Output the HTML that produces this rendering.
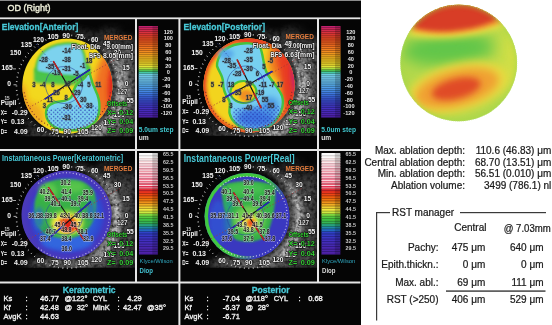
<!DOCTYPE html>
<html><head><meta charset="utf-8"><title>OD (Right)</title>
<style>
html,body{margin:0;padding:0;background:#fff;width:552px;height:325px;overflow:hidden}
svg{display:block}
text{font-family:'Liberation Sans', Arial, sans-serif}
</style></head><body>
<svg width="552" height="325" viewBox="0 0 552 325">
<defs>
<filter id="b05" x="-20%" y="-20%" width="140%" height="140%"><feGaussianBlur stdDeviation="0.5"/></filter>
<filter id="b1" x="-20%" y="-20%" width="140%" height="140%"><feGaussianBlur stdDeviation="1"/></filter>
<filter id="b2" x="-30%" y="-30%" width="160%" height="160%"><feGaussianBlur stdDeviation="2"/></filter>
<filter id="b3" x="-40%" y="-40%" width="180%" height="180%"><feGaussianBlur stdDeviation="3"/></filter>
<filter id="b5" x="-50%" y="-50%" width="200%" height="200%"><feGaussianBlur stdDeviation="5"/></filter>
<filter id="b8" x="-50%" y="-50%" width="200%" height="200%"><feGaussianBlur stdDeviation="8"/></filter>
</defs>
<rect x="0" y="0" width="552" height="325" fill="#ffffff"/>
<rect x="0" y="0" width="361" height="325" fill="#050505"/>
<rect x="0" y="0" width="361" height="1" fill="#8a8a8a"/>

<text x="7.6" y="10.6" font-size="9" fill="#eeeed8" textLength="42.8" lengthAdjust="spacingAndGlyphs" stroke="#eeeed8" stroke-width="0.4">OD (Right)</text>
<rect x="0" y="17.4" width="360.5" height="1.8" fill="#e6e6e6"/>
<rect x="0" y="149" width="360.5" height="2" fill="#e6e6e6"/>
<rect x="0" y="281.5" width="360.5" height="2" fill="#e6e6e6"/>
<rect x="135" y="18" width="2" height="264" fill="#e6e6e6"/>
<rect x="178.4" y="18" width="2" height="307" fill="#e6e6e6"/>
<rect x="317" y="18" width="2" height="264" fill="#e6e6e6"/>
<rect x="138.7" y="26.00" width="19.30000000000001" height="1.96" fill="rgb(196, 34, 112)"/>
<rect x="138.7" y="27.31" width="19.30000000000001" height="0.6" fill="rgb(107, 18, 61)"/>
<rect x="138.7" y="27.91" width="19.30000000000001" height="1.96" fill="rgb(203, 38, 92)"/>
<rect x="138.7" y="29.21" width="19.30000000000001" height="0.6" fill="rgb(111, 20, 50)"/>
<rect x="138.7" y="29.81" width="19.30000000000001" height="1.96" fill="rgb(210, 43, 75)"/>
<rect x="138.7" y="31.12" width="19.30000000000001" height="0.6" fill="rgb(115, 23, 41)"/>
<rect x="138.7" y="31.72" width="19.30000000000001" height="1.96" fill="rgb(217, 50, 63)"/>
<rect x="138.7" y="33.02" width="19.30000000000001" height="0.6" fill="rgb(119, 27, 34)"/>
<rect x="138.7" y="33.62" width="19.30000000000001" height="1.96" fill="rgb(223, 56, 51)"/>
<rect x="138.7" y="34.93" width="19.30000000000001" height="0.6" fill="rgb(122, 30, 28)"/>
<rect x="138.7" y="35.53" width="19.30000000000001" height="1.96" fill="rgb(226, 65, 43)"/>
<rect x="138.7" y="36.84" width="19.30000000000001" height="0.6" fill="rgb(124, 35, 23)"/>
<rect x="138.7" y="37.44" width="19.30000000000001" height="1.96" fill="rgb(229, 73, 37)"/>
<rect x="138.7" y="38.74" width="19.30000000000001" height="0.6" fill="rgb(125, 40, 20)"/>
<rect x="138.7" y="39.34" width="19.30000000000001" height="1.96" fill="rgb(232, 81, 32)"/>
<rect x="138.7" y="40.65" width="19.30000000000001" height="0.6" fill="rgb(127, 44, 17)"/>
<rect x="138.7" y="41.25" width="19.30000000000001" height="1.96" fill="rgb(236, 91, 32)"/>
<rect x="138.7" y="42.56" width="19.30000000000001" height="0.6" fill="rgb(129, 50, 17)"/>
<rect x="138.7" y="43.16" width="19.30000000000001" height="1.96" fill="rgb(239, 100, 32)"/>
<rect x="138.7" y="44.46" width="19.30000000000001" height="0.6" fill="rgb(131, 55, 17)"/>
<rect x="138.7" y="45.06" width="19.30000000000001" height="1.96" fill="rgb(240, 109, 32)"/>
<rect x="138.7" y="46.37" width="19.30000000000001" height="0.6" fill="rgb(132, 59, 17)"/>
<rect x="138.7" y="46.97" width="19.30000000000001" height="1.96" fill="rgb(240, 118, 32)"/>
<rect x="138.7" y="48.27" width="19.30000000000001" height="0.6" fill="rgb(132, 64, 17)"/>
<rect x="138.7" y="48.88" width="19.30000000000001" height="1.96" fill="rgb(240, 127, 32)"/>
<rect x="138.7" y="50.18" width="19.30000000000001" height="0.6" fill="rgb(132, 69, 17)"/>
<rect x="138.7" y="50.78" width="19.30000000000001" height="1.96" fill="rgb(240, 139, 32)"/>
<rect x="138.7" y="52.09" width="19.30000000000001" height="0.6" fill="rgb(132, 76, 17)"/>
<rect x="138.7" y="52.69" width="19.30000000000001" height="1.96" fill="rgb(240, 151, 32)"/>
<rect x="138.7" y="53.99" width="19.30000000000001" height="0.6" fill="rgb(132, 83, 17)"/>
<rect x="138.7" y="54.59" width="19.30000000000001" height="1.96" fill="rgb(240, 164, 32)"/>
<rect x="138.7" y="55.90" width="19.30000000000001" height="0.6" fill="rgb(132, 90, 17)"/>
<rect x="138.7" y="56.50" width="19.30000000000001" height="1.96" fill="rgb(240, 176, 32)"/>
<rect x="138.7" y="57.81" width="19.30000000000001" height="0.6" fill="rgb(132, 96, 17)"/>
<rect x="138.7" y="58.41" width="19.30000000000001" height="1.96" fill="rgb(240, 188, 32)"/>
<rect x="138.7" y="59.71" width="19.30000000000001" height="0.6" fill="rgb(132, 103, 17)"/>
<rect x="138.7" y="60.31" width="19.30000000000001" height="1.96" fill="rgb(240, 200, 36)"/>
<rect x="138.7" y="61.62" width="19.30000000000001" height="0.6" fill="rgb(132, 110, 19)"/>
<rect x="138.7" y="62.22" width="19.30000000000001" height="1.96" fill="rgb(240, 212, 42)"/>
<rect x="138.7" y="63.52" width="19.30000000000001" height="0.6" fill="rgb(132, 116, 23)"/>
<rect x="138.7" y="64.12" width="19.30000000000001" height="1.96" fill="rgb(240, 224, 48)"/>
<rect x="138.7" y="65.43" width="19.30000000000001" height="0.6" fill="rgb(132, 123, 26)"/>
<rect x="138.7" y="66.03" width="19.30000000000001" height="1.96" fill="rgb(229, 235, 59)"/>
<rect x="138.7" y="67.34" width="19.30000000000001" height="0.6" fill="rgb(125, 129, 32)"/>
<rect x="138.7" y="67.94" width="19.30000000000001" height="1.96" fill="rgb(173, 223, 64)"/>
<rect x="138.7" y="69.24" width="19.30000000000001" height="0.6" fill="rgb(95, 122, 35)"/>
<rect x="138.7" y="69.84" width="19.30000000000001" height="1.96" fill="rgb(78, 193, 78)"/>
<rect x="138.7" y="71.15" width="19.30000000000001" height="0.6" fill="rgb(42, 106, 42)"/>
<rect x="138.7" y="71.75" width="19.30000000000001" height="1.96" fill="rgb(69, 201, 166)"/>
<rect x="138.7" y="73.06" width="19.30000000000001" height="0.6" fill="rgb(37, 110, 91)"/>
<rect x="138.7" y="73.66" width="19.30000000000001" height="1.96" fill="rgb(111, 210, 228)"/>
<rect x="138.7" y="74.96" width="19.30000000000001" height="0.6" fill="rgb(61, 115, 125)"/>
<rect x="138.7" y="75.56" width="19.30000000000001" height="1.96" fill="rgb(118, 208, 240)"/>
<rect x="138.7" y="76.87" width="19.30000000000001" height="0.6" fill="rgb(64, 114, 132)"/>
<rect x="138.7" y="77.47" width="19.30000000000001" height="1.96" fill="rgb(115, 204, 240)"/>
<rect x="138.7" y="78.78" width="19.30000000000001" height="0.6" fill="rgb(63, 112, 132)"/>
<rect x="138.7" y="79.38" width="19.30000000000001" height="1.96" fill="rgb(111, 198, 240)"/>
<rect x="138.7" y="80.68" width="19.30000000000001" height="0.6" fill="rgb(61, 108, 132)"/>
<rect x="138.7" y="81.28" width="19.30000000000001" height="1.96" fill="rgb(102, 189, 238)"/>
<rect x="138.7" y="82.59" width="19.30000000000001" height="0.6" fill="rgb(56, 103, 130)"/>
<rect x="138.7" y="83.19" width="19.30000000000001" height="1.96" fill="rgb(94, 180, 237)"/>
<rect x="138.7" y="84.49" width="19.30000000000001" height="0.6" fill="rgb(51, 99, 130)"/>
<rect x="138.7" y="85.09" width="19.30000000000001" height="1.96" fill="rgb(86, 169, 234)"/>
<rect x="138.7" y="86.40" width="19.30000000000001" height="0.6" fill="rgb(47, 92, 128)"/>
<rect x="138.7" y="87.00" width="19.30000000000001" height="1.96" fill="rgb(79, 157, 231)"/>
<rect x="138.7" y="88.31" width="19.30000000000001" height="0.6" fill="rgb(43, 86, 127)"/>
<rect x="138.7" y="88.91" width="19.30000000000001" height="1.96" fill="rgb(73, 145, 228)"/>
<rect x="138.7" y="90.21" width="19.30000000000001" height="0.6" fill="rgb(40, 79, 125)"/>
<rect x="138.7" y="90.81" width="19.30000000000001" height="1.96" fill="rgb(68, 133, 225)"/>
<rect x="138.7" y="92.12" width="19.30000000000001" height="0.6" fill="rgb(37, 73, 123)"/>
<rect x="138.7" y="92.72" width="19.30000000000001" height="1.96" fill="rgb(63, 120, 222)"/>
<rect x="138.7" y="94.03" width="19.30000000000001" height="0.6" fill="rgb(34, 66, 122)"/>
<rect x="138.7" y="94.62" width="19.30000000000001" height="1.96" fill="rgb(60, 108, 219)"/>
<rect x="138.7" y="95.93" width="19.30000000000001" height="0.6" fill="rgb(33, 59, 120)"/>
<rect x="138.7" y="96.53" width="19.30000000000001" height="1.96" fill="rgb(58, 96, 214)"/>
<rect x="138.7" y="97.84" width="19.30000000000001" height="0.6" fill="rgb(31, 52, 117)"/>
<rect x="138.7" y="98.44" width="19.30000000000001" height="1.96" fill="rgb(56, 84, 209)"/>
<rect x="138.7" y="99.74" width="19.30000000000001" height="0.6" fill="rgb(30, 46, 114)"/>
<rect x="138.7" y="100.34" width="19.30000000000001" height="1.96" fill="rgb(58, 75, 205)"/>
<rect x="138.7" y="101.65" width="19.30000000000001" height="0.6" fill="rgb(31, 41, 112)"/>
<rect x="138.7" y="102.25" width="19.30000000000001" height="1.96" fill="rgb(60, 67, 202)"/>
<rect x="138.7" y="103.56" width="19.30000000000001" height="0.6" fill="rgb(33, 36, 111)"/>
<rect x="138.7" y="104.16" width="19.30000000000001" height="1.96" fill="rgb(63, 60, 198)"/>
<rect x="138.7" y="105.46" width="19.30000000000001" height="0.6" fill="rgb(34, 33, 108)"/>
<rect x="138.7" y="106.06" width="19.30000000000001" height="1.96" fill="rgb(65, 53, 194)"/>
<rect x="138.7" y="107.37" width="19.30000000000001" height="0.6" fill="rgb(35, 29, 106)"/>
<rect x="138.7" y="107.97" width="19.30000000000001" height="1.96" fill="rgb(68, 48, 190)"/>
<rect x="138.7" y="109.28" width="19.30000000000001" height="0.6" fill="rgb(37, 26, 104)"/>
<rect x="138.7" y="109.88" width="19.30000000000001" height="1.96" fill="rgb(70, 43, 186)"/>
<rect x="138.7" y="111.18" width="19.30000000000001" height="0.6" fill="rgb(38, 23, 102)"/>
<rect x="138.7" y="111.78" width="19.30000000000001" height="1.96" fill="rgb(73, 39, 182)"/>
<rect x="138.7" y="113.09" width="19.30000000000001" height="0.6" fill="rgb(40, 21, 100)"/>
<rect x="138.7" y="113.69" width="19.30000000000001" height="1.96" fill="rgb(76, 36, 176)"/>
<rect x="138.7" y="114.99" width="19.30000000000001" height="0.6" fill="rgb(41, 19, 96)"/>
<rect x="138.7" y="115.59" width="19.30000000000001" height="1.96" fill="rgb(79, 33, 171)"/>
<rect x="138.7" y="116.90" width="19.30000000000001" height="0.6" fill="rgb(43, 18, 94)"/>
<rect x="152.5" y="26" width="5.5" height="91.5" fill="#000" opacity="0.18"/>
<rect x="139" y="153.00" width="18.80000000000001" height="2.59" fill="rgb(249, 249, 249)"/>
<rect x="139" y="154.64" width="18.80000000000001" height="0.9" fill="#ffffff" opacity="0.85"/>
<rect x="139" y="155.54" width="18.80000000000001" height="2.59" fill="rgb(240, 235, 235)"/>
<rect x="139" y="157.17" width="18.80000000000001" height="0.9" fill="#ffffff" opacity="0.85"/>
<rect x="139" y="158.07" width="18.80000000000001" height="2.59" fill="rgb(240, 220, 220)"/>
<rect x="139" y="159.71" width="18.80000000000001" height="0.9" fill="#ffffff" opacity="0.85"/>
<rect x="139" y="160.61" width="18.80000000000001" height="2.59" fill="rgb(240, 205, 208)"/>
<rect x="139" y="162.25" width="18.80000000000001" height="0.9" fill="#ffffff" opacity="0.85"/>
<rect x="139" y="163.15" width="18.80000000000001" height="2.59" fill="rgb(240, 189, 198)"/>
<rect x="139" y="164.79" width="18.80000000000001" height="0.9" fill="#ffffff" opacity="0.85"/>
<rect x="139" y="165.69" width="18.80000000000001" height="2.59" fill="rgb(240, 174, 188)"/>
<rect x="139" y="167.32" width="18.80000000000001" height="0.9" fill="#ffffff" opacity="0.85"/>
<rect x="139" y="168.22" width="18.80000000000001" height="2.59" fill="rgb(240, 163, 178)"/>
<rect x="139" y="169.86" width="18.80000000000001" height="0.9" fill="#ffffff" opacity="0.85"/>
<rect x="139" y="170.76" width="18.80000000000001" height="2.59" fill="rgb(240, 154, 168)"/>
<rect x="139" y="172.40" width="18.80000000000001" height="0.9" fill="#ffffff" opacity="0.85"/>
<rect x="139" y="173.30" width="18.80000000000001" height="2.59" fill="rgb(240, 142, 163)"/>
<rect x="139" y="174.94" width="18.80000000000001" height="0.9" fill="#ffffff" opacity="0.85"/>
<rect x="139" y="175.84" width="18.80000000000001" height="2.59" fill="rgb(240, 132, 156)"/>
<rect x="139" y="177.47" width="18.80000000000001" height="0.9" fill="#ffffff" opacity="0.85"/>
<rect x="139" y="178.38" width="18.80000000000001" height="2.59" fill="rgb(240, 121, 145)"/>
<rect x="139" y="180.01" width="18.80000000000001" height="0.9" fill="#ffffff" opacity="0.85"/>
<rect x="139" y="180.91" width="18.80000000000001" height="2.59" fill="rgb(236, 107, 131)"/>
<rect x="139" y="182.55" width="18.80000000000001" height="0.9" fill="#ffffff" opacity="0.85"/>
<rect x="139" y="183.45" width="18.80000000000001" height="2.59" fill="rgb(231, 86, 111)"/>
<rect x="139" y="185.09" width="18.80000000000001" height="0.9" fill="#ffffff" opacity="0.85"/>
<rect x="139" y="185.99" width="18.80000000000001" height="2.59" fill="rgb(225, 50, 81)"/>
<rect x="139" y="187.62" width="18.80000000000001" height="0.9" fill="#ffffff" opacity="0.85"/>
<rect x="139" y="188.53" width="18.80000000000001" height="2.59" fill="rgb(228, 44, 54)"/>
<rect x="139" y="190.46" width="18.80000000000001" height="0.6" fill="rgb(125, 24, 29)"/>
<rect x="139" y="191.06" width="18.80000000000001" height="2.59" fill="rgb(233, 51, 31)"/>
<rect x="139" y="193.00" width="18.80000000000001" height="0.6" fill="rgb(128, 28, 17)"/>
<rect x="139" y="193.60" width="18.80000000000001" height="2.59" fill="rgb(238, 71, 21)"/>
<rect x="139" y="195.54" width="18.80000000000001" height="0.6" fill="rgb(130, 39, 11)"/>
<rect x="139" y="196.14" width="18.80000000000001" height="2.59" fill="rgb(240, 94, 16)"/>
<rect x="139" y="198.07" width="18.80000000000001" height="0.6" fill="rgb(132, 51, 8)"/>
<rect x="139" y="198.68" width="18.80000000000001" height="2.59" fill="rgb(240, 119, 16)"/>
<rect x="139" y="200.61" width="18.80000000000001" height="0.6" fill="rgb(132, 65, 8)"/>
<rect x="139" y="201.21" width="18.80000000000001" height="2.59" fill="rgb(240, 145, 26)"/>
<rect x="139" y="203.15" width="18.80000000000001" height="0.6" fill="rgb(132, 79, 14)"/>
<rect x="139" y="203.75" width="18.80000000000001" height="2.59" fill="rgb(240, 174, 37)"/>
<rect x="139" y="205.69" width="18.80000000000001" height="0.6" fill="rgb(132, 95, 20)"/>
<rect x="139" y="206.29" width="18.80000000000001" height="2.59" fill="rgb(240, 206, 51)"/>
<rect x="139" y="208.22" width="18.80000000000001" height="0.6" fill="rgb(132, 113, 28)"/>
<rect x="139" y="208.82" width="18.80000000000001" height="2.59" fill="rgb(239, 232, 64)"/>
<rect x="139" y="210.76" width="18.80000000000001" height="0.6" fill="rgb(131, 127, 35)"/>
<rect x="139" y="211.36" width="18.80000000000001" height="2.59" fill="rgb(205, 232, 64)"/>
<rect x="139" y="213.30" width="18.80000000000001" height="0.6" fill="rgb(112, 127, 35)"/>
<rect x="139" y="213.90" width="18.80000000000001" height="2.59" fill="rgb(125, 215, 64)"/>
<rect x="139" y="215.84" width="18.80000000000001" height="0.6" fill="rgb(68, 118, 35)"/>
<rect x="139" y="216.44" width="18.80000000000001" height="2.59" fill="rgb(82, 201, 64)"/>
<rect x="139" y="218.38" width="18.80000000000001" height="0.6" fill="rgb(45, 110, 35)"/>
<rect x="139" y="218.98" width="18.80000000000001" height="2.59" fill="rgb(63, 191, 66)"/>
<rect x="139" y="220.91" width="18.80000000000001" height="0.6" fill="rgb(34, 105, 36)"/>
<rect x="139" y="221.51" width="18.80000000000001" height="2.59" fill="rgb(53, 181, 86)"/>
<rect x="139" y="223.45" width="18.80000000000001" height="0.6" fill="rgb(29, 99, 47)"/>
<rect x="139" y="224.05" width="18.80000000000001" height="2.59" fill="rgb(41, 162, 124)"/>
<rect x="139" y="225.99" width="18.80000000000001" height="0.6" fill="rgb(22, 89, 68)"/>
<rect x="139" y="226.59" width="18.80000000000001" height="2.59" fill="rgb(32, 135, 169)"/>
<rect x="139" y="228.53" width="18.80000000000001" height="0.6" fill="rgb(17, 74, 92)"/>
<rect x="139" y="229.12" width="18.80000000000001" height="2.59" fill="rgb(34, 106, 193)"/>
<rect x="139" y="231.06" width="18.80000000000001" height="0.6" fill="rgb(18, 58, 106)"/>
<rect x="139" y="231.66" width="18.80000000000001" height="2.59" fill="rgb(48, 65, 200)"/>
<rect x="139" y="233.60" width="18.80000000000001" height="0.6" fill="rgb(26, 35, 110)"/>
<rect x="139" y="234.20" width="18.80000000000001" height="2.59" fill="rgb(54, 58, 197)"/>
<rect x="139" y="236.14" width="18.80000000000001" height="0.6" fill="rgb(29, 31, 108)"/>
<rect x="139" y="236.74" width="18.80000000000001" height="2.59" fill="rgb(59, 53, 194)"/>
<rect x="139" y="238.68" width="18.80000000000001" height="0.6" fill="rgb(32, 29, 106)"/>
<rect x="139" y="239.28" width="18.80000000000001" height="2.59" fill="rgb(65, 47, 191)"/>
<rect x="139" y="241.21" width="18.80000000000001" height="0.6" fill="rgb(35, 25, 105)"/>
<rect x="139" y="241.81" width="18.80000000000001" height="2.59" fill="rgb(68, 44, 185)"/>
<rect x="139" y="243.75" width="18.80000000000001" height="0.6" fill="rgb(37, 24, 101)"/>
<rect x="139" y="244.35" width="18.80000000000001" height="2.59" fill="rgb(70, 42, 179)"/>
<rect x="139" y="246.29" width="18.80000000000001" height="0.6" fill="rgb(38, 23, 98)"/>
<rect x="139" y="246.89" width="18.80000000000001" height="2.59" fill="rgb(73, 39, 175)"/>
<rect x="139" y="248.82" width="18.80000000000001" height="0.6" fill="rgb(40, 21, 96)"/>
<rect x="139" y="249.43" width="18.80000000000001" height="2.59" fill="rgb(76, 36, 172)"/>
<rect x="139" y="251.36" width="18.80000000000001" height="0.6" fill="rgb(41, 19, 94)"/>
<rect x="139" y="251.96" width="18.80000000000001" height="2.59" fill="rgb(79, 33, 169)"/>
<rect x="139" y="253.90" width="18.80000000000001" height="0.6" fill="rgb(43, 18, 92)"/>
<rect x="152.3" y="153" width="5.5" height="101.5" fill="#000" opacity="0.18"/>
<text x="168.3" y="33.7" font-size="5.6" fill="#e6e6e6" font-weight="bold" text-anchor="middle">120</text>
<text x="168.3" y="40.480000000000004" font-size="5.6" fill="#e6e6e6" font-weight="bold" text-anchor="middle">100</text>
<text x="168.3" y="47.260000000000005" font-size="5.6" fill="#e6e6e6" font-weight="bold" text-anchor="middle">80</text>
<text x="168.3" y="54.040000000000006" font-size="5.6" fill="#e6e6e6" font-weight="bold" text-anchor="middle">60</text>
<text x="168.3" y="60.82000000000001" font-size="5.6" fill="#e6e6e6" font-weight="bold" text-anchor="middle">40</text>
<text x="168.3" y="67.6" font-size="5.6" fill="#e6e6e6" font-weight="bold" text-anchor="middle">20</text>
<text x="168.3" y="74.38" font-size="5.6" fill="#e6e6e6" font-weight="bold" text-anchor="middle">0</text>
<text x="166.4" y="81.16" font-size="5.6" fill="#e6e6e6" font-weight="bold" text-anchor="middle">-20</text>
<text x="166.4" y="87.94" font-size="5.6" fill="#e6e6e6" font-weight="bold" text-anchor="middle">-40</text>
<text x="166.4" y="94.72" font-size="5.6" fill="#e6e6e6" font-weight="bold" text-anchor="middle">-60</text>
<text x="166.4" y="101.5" font-size="5.6" fill="#e6e6e6" font-weight="bold" text-anchor="middle">-80</text>
<text x="166.4" y="108.28" font-size="5.6" fill="#e6e6e6" font-weight="bold" text-anchor="middle">-100</text>
<text x="166.4" y="115.06" font-size="5.6" fill="#e6e6e6" font-weight="bold" text-anchor="middle">-120</text>
<text x="168.2" y="156.2" font-size="5.3" fill="#c8c8c8" font-weight="bold" text-anchor="middle">65.5</text>
<text x="168.2" y="164.04999999999998" font-size="5.3" fill="#c8c8c8" font-weight="bold" text-anchor="middle">62.5</text>
<text x="168.2" y="171.89999999999998" font-size="5.3" fill="#c8c8c8" font-weight="bold" text-anchor="middle">59.5</text>
<text x="168.2" y="179.75" font-size="5.3" fill="#c8c8c8" font-weight="bold" text-anchor="middle">56.5</text>
<text x="168.2" y="187.6" font-size="5.3" fill="#c8c8c8" font-weight="bold" text-anchor="middle">53.5</text>
<text x="168.2" y="195.45" font-size="5.3" fill="#c8c8c8" font-weight="bold" text-anchor="middle">50.5</text>
<text x="168.2" y="203.29999999999998" font-size="5.3" fill="#c8c8c8" font-weight="bold" text-anchor="middle">47.5</text>
<text x="168.2" y="211.14999999999998" font-size="5.3" fill="#c8c8c8" font-weight="bold" text-anchor="middle">44.5</text>
<text x="168.2" y="219.0" font-size="5.3" fill="#c8c8c8" font-weight="bold" text-anchor="middle">41.5</text>
<text x="168.2" y="226.84999999999997" font-size="5.3" fill="#c8c8c8" font-weight="bold" text-anchor="middle">38.5</text>
<text x="168.2" y="234.7" font-size="5.3" fill="#c8c8c8" font-weight="bold" text-anchor="middle">35.5</text>
<text x="168.2" y="242.54999999999998" font-size="5.3" fill="#c8c8c8" font-weight="bold" text-anchor="middle">32.5</text>
<text x="168.2" y="250.39999999999998" font-size="5.3" fill="#c8c8c8" font-weight="bold" text-anchor="middle">29.5</text>
<text x="138.7" y="131.9" font-size="7" fill="#40c8d0" font-weight="bold" textLength="34.8" lengthAdjust="spacingAndGlyphs">5.0um step</text>
<text x="138.7" y="140" font-size="7" fill="#e0e0e0" font-weight="bold" textLength="10" lengthAdjust="spacingAndGlyphs">um</text>
<text x="139.5" y="262.9" font-size="5" fill="#30a8c0" textLength="33.3" lengthAdjust="spacingAndGlyphs">Klyce/Wilson</text>
<text x="139.5" y="273" font-size="7.8" fill="#44c4d4" font-weight="bold" textLength="13.5" lengthAdjust="spacingAndGlyphs">Diop</text>
<rect x="321.2" y="26.00" width="19.30000000000001" height="1.96" fill="rgb(196, 34, 112)"/>
<rect x="321.2" y="27.31" width="19.30000000000001" height="0.6" fill="rgb(107, 18, 61)"/>
<rect x="321.2" y="27.91" width="19.30000000000001" height="1.96" fill="rgb(203, 38, 92)"/>
<rect x="321.2" y="29.21" width="19.30000000000001" height="0.6" fill="rgb(111, 20, 50)"/>
<rect x="321.2" y="29.81" width="19.30000000000001" height="1.96" fill="rgb(210, 43, 75)"/>
<rect x="321.2" y="31.12" width="19.30000000000001" height="0.6" fill="rgb(115, 23, 41)"/>
<rect x="321.2" y="31.72" width="19.30000000000001" height="1.96" fill="rgb(217, 50, 63)"/>
<rect x="321.2" y="33.02" width="19.30000000000001" height="0.6" fill="rgb(119, 27, 34)"/>
<rect x="321.2" y="33.62" width="19.30000000000001" height="1.96" fill="rgb(223, 56, 51)"/>
<rect x="321.2" y="34.93" width="19.30000000000001" height="0.6" fill="rgb(122, 30, 28)"/>
<rect x="321.2" y="35.53" width="19.30000000000001" height="1.96" fill="rgb(226, 65, 43)"/>
<rect x="321.2" y="36.84" width="19.30000000000001" height="0.6" fill="rgb(124, 35, 23)"/>
<rect x="321.2" y="37.44" width="19.30000000000001" height="1.96" fill="rgb(229, 73, 37)"/>
<rect x="321.2" y="38.74" width="19.30000000000001" height="0.6" fill="rgb(125, 40, 20)"/>
<rect x="321.2" y="39.34" width="19.30000000000001" height="1.96" fill="rgb(232, 81, 32)"/>
<rect x="321.2" y="40.65" width="19.30000000000001" height="0.6" fill="rgb(127, 44, 17)"/>
<rect x="321.2" y="41.25" width="19.30000000000001" height="1.96" fill="rgb(236, 91, 32)"/>
<rect x="321.2" y="42.56" width="19.30000000000001" height="0.6" fill="rgb(129, 50, 17)"/>
<rect x="321.2" y="43.16" width="19.30000000000001" height="1.96" fill="rgb(239, 100, 32)"/>
<rect x="321.2" y="44.46" width="19.30000000000001" height="0.6" fill="rgb(131, 55, 17)"/>
<rect x="321.2" y="45.06" width="19.30000000000001" height="1.96" fill="rgb(240, 109, 32)"/>
<rect x="321.2" y="46.37" width="19.30000000000001" height="0.6" fill="rgb(132, 59, 17)"/>
<rect x="321.2" y="46.97" width="19.30000000000001" height="1.96" fill="rgb(240, 118, 32)"/>
<rect x="321.2" y="48.27" width="19.30000000000001" height="0.6" fill="rgb(132, 64, 17)"/>
<rect x="321.2" y="48.88" width="19.30000000000001" height="1.96" fill="rgb(240, 127, 32)"/>
<rect x="321.2" y="50.18" width="19.30000000000001" height="0.6" fill="rgb(132, 69, 17)"/>
<rect x="321.2" y="50.78" width="19.30000000000001" height="1.96" fill="rgb(240, 139, 32)"/>
<rect x="321.2" y="52.09" width="19.30000000000001" height="0.6" fill="rgb(132, 76, 17)"/>
<rect x="321.2" y="52.69" width="19.30000000000001" height="1.96" fill="rgb(240, 151, 32)"/>
<rect x="321.2" y="53.99" width="19.30000000000001" height="0.6" fill="rgb(132, 83, 17)"/>
<rect x="321.2" y="54.59" width="19.30000000000001" height="1.96" fill="rgb(240, 164, 32)"/>
<rect x="321.2" y="55.90" width="19.30000000000001" height="0.6" fill="rgb(132, 90, 17)"/>
<rect x="321.2" y="56.50" width="19.30000000000001" height="1.96" fill="rgb(240, 176, 32)"/>
<rect x="321.2" y="57.81" width="19.30000000000001" height="0.6" fill="rgb(132, 96, 17)"/>
<rect x="321.2" y="58.41" width="19.30000000000001" height="1.96" fill="rgb(240, 188, 32)"/>
<rect x="321.2" y="59.71" width="19.30000000000001" height="0.6" fill="rgb(132, 103, 17)"/>
<rect x="321.2" y="60.31" width="19.30000000000001" height="1.96" fill="rgb(240, 200, 36)"/>
<rect x="321.2" y="61.62" width="19.30000000000001" height="0.6" fill="rgb(132, 110, 19)"/>
<rect x="321.2" y="62.22" width="19.30000000000001" height="1.96" fill="rgb(240, 212, 42)"/>
<rect x="321.2" y="63.52" width="19.30000000000001" height="0.6" fill="rgb(132, 116, 23)"/>
<rect x="321.2" y="64.12" width="19.30000000000001" height="1.96" fill="rgb(240, 224, 48)"/>
<rect x="321.2" y="65.43" width="19.30000000000001" height="0.6" fill="rgb(132, 123, 26)"/>
<rect x="321.2" y="66.03" width="19.30000000000001" height="1.96" fill="rgb(229, 235, 59)"/>
<rect x="321.2" y="67.34" width="19.30000000000001" height="0.6" fill="rgb(125, 129, 32)"/>
<rect x="321.2" y="67.94" width="19.30000000000001" height="1.96" fill="rgb(173, 223, 64)"/>
<rect x="321.2" y="69.24" width="19.30000000000001" height="0.6" fill="rgb(95, 122, 35)"/>
<rect x="321.2" y="69.84" width="19.30000000000001" height="1.96" fill="rgb(78, 193, 78)"/>
<rect x="321.2" y="71.15" width="19.30000000000001" height="0.6" fill="rgb(42, 106, 42)"/>
<rect x="321.2" y="71.75" width="19.30000000000001" height="1.96" fill="rgb(69, 201, 166)"/>
<rect x="321.2" y="73.06" width="19.30000000000001" height="0.6" fill="rgb(37, 110, 91)"/>
<rect x="321.2" y="73.66" width="19.30000000000001" height="1.96" fill="rgb(111, 210, 228)"/>
<rect x="321.2" y="74.96" width="19.30000000000001" height="0.6" fill="rgb(61, 115, 125)"/>
<rect x="321.2" y="75.56" width="19.30000000000001" height="1.96" fill="rgb(118, 208, 240)"/>
<rect x="321.2" y="76.87" width="19.30000000000001" height="0.6" fill="rgb(64, 114, 132)"/>
<rect x="321.2" y="77.47" width="19.30000000000001" height="1.96" fill="rgb(115, 204, 240)"/>
<rect x="321.2" y="78.78" width="19.30000000000001" height="0.6" fill="rgb(63, 112, 132)"/>
<rect x="321.2" y="79.38" width="19.30000000000001" height="1.96" fill="rgb(111, 198, 240)"/>
<rect x="321.2" y="80.68" width="19.30000000000001" height="0.6" fill="rgb(61, 108, 132)"/>
<rect x="321.2" y="81.28" width="19.30000000000001" height="1.96" fill="rgb(102, 189, 238)"/>
<rect x="321.2" y="82.59" width="19.30000000000001" height="0.6" fill="rgb(56, 103, 130)"/>
<rect x="321.2" y="83.19" width="19.30000000000001" height="1.96" fill="rgb(94, 180, 237)"/>
<rect x="321.2" y="84.49" width="19.30000000000001" height="0.6" fill="rgb(51, 99, 130)"/>
<rect x="321.2" y="85.09" width="19.30000000000001" height="1.96" fill="rgb(86, 169, 234)"/>
<rect x="321.2" y="86.40" width="19.30000000000001" height="0.6" fill="rgb(47, 92, 128)"/>
<rect x="321.2" y="87.00" width="19.30000000000001" height="1.96" fill="rgb(79, 157, 231)"/>
<rect x="321.2" y="88.31" width="19.30000000000001" height="0.6" fill="rgb(43, 86, 127)"/>
<rect x="321.2" y="88.91" width="19.30000000000001" height="1.96" fill="rgb(73, 145, 228)"/>
<rect x="321.2" y="90.21" width="19.30000000000001" height="0.6" fill="rgb(40, 79, 125)"/>
<rect x="321.2" y="90.81" width="19.30000000000001" height="1.96" fill="rgb(68, 133, 225)"/>
<rect x="321.2" y="92.12" width="19.30000000000001" height="0.6" fill="rgb(37, 73, 123)"/>
<rect x="321.2" y="92.72" width="19.30000000000001" height="1.96" fill="rgb(63, 120, 222)"/>
<rect x="321.2" y="94.03" width="19.30000000000001" height="0.6" fill="rgb(34, 66, 122)"/>
<rect x="321.2" y="94.62" width="19.30000000000001" height="1.96" fill="rgb(60, 108, 219)"/>
<rect x="321.2" y="95.93" width="19.30000000000001" height="0.6" fill="rgb(33, 59, 120)"/>
<rect x="321.2" y="96.53" width="19.30000000000001" height="1.96" fill="rgb(58, 96, 214)"/>
<rect x="321.2" y="97.84" width="19.30000000000001" height="0.6" fill="rgb(31, 52, 117)"/>
<rect x="321.2" y="98.44" width="19.30000000000001" height="1.96" fill="rgb(56, 84, 209)"/>
<rect x="321.2" y="99.74" width="19.30000000000001" height="0.6" fill="rgb(30, 46, 114)"/>
<rect x="321.2" y="100.34" width="19.30000000000001" height="1.96" fill="rgb(58, 75, 205)"/>
<rect x="321.2" y="101.65" width="19.30000000000001" height="0.6" fill="rgb(31, 41, 112)"/>
<rect x="321.2" y="102.25" width="19.30000000000001" height="1.96" fill="rgb(60, 67, 202)"/>
<rect x="321.2" y="103.56" width="19.30000000000001" height="0.6" fill="rgb(33, 36, 111)"/>
<rect x="321.2" y="104.16" width="19.30000000000001" height="1.96" fill="rgb(63, 60, 198)"/>
<rect x="321.2" y="105.46" width="19.30000000000001" height="0.6" fill="rgb(34, 33, 108)"/>
<rect x="321.2" y="106.06" width="19.30000000000001" height="1.96" fill="rgb(65, 53, 194)"/>
<rect x="321.2" y="107.37" width="19.30000000000001" height="0.6" fill="rgb(35, 29, 106)"/>
<rect x="321.2" y="107.97" width="19.30000000000001" height="1.96" fill="rgb(68, 48, 190)"/>
<rect x="321.2" y="109.28" width="19.30000000000001" height="0.6" fill="rgb(37, 26, 104)"/>
<rect x="321.2" y="109.88" width="19.30000000000001" height="1.96" fill="rgb(70, 43, 186)"/>
<rect x="321.2" y="111.18" width="19.30000000000001" height="0.6" fill="rgb(38, 23, 102)"/>
<rect x="321.2" y="111.78" width="19.30000000000001" height="1.96" fill="rgb(73, 39, 182)"/>
<rect x="321.2" y="113.09" width="19.30000000000001" height="0.6" fill="rgb(40, 21, 100)"/>
<rect x="321.2" y="113.69" width="19.30000000000001" height="1.96" fill="rgb(76, 36, 176)"/>
<rect x="321.2" y="114.99" width="19.30000000000001" height="0.6" fill="rgb(41, 19, 96)"/>
<rect x="321.2" y="115.59" width="19.30000000000001" height="1.96" fill="rgb(79, 33, 171)"/>
<rect x="321.2" y="116.90" width="19.30000000000001" height="0.6" fill="rgb(43, 18, 94)"/>
<rect x="335.0" y="26" width="5.5" height="91.5" fill="#000" opacity="0.18"/>
<rect x="321.5" y="153.00" width="18.80000000000001" height="2.59" fill="rgb(249, 249, 249)"/>
<rect x="321.5" y="154.64" width="18.80000000000001" height="0.9" fill="#ffffff" opacity="0.85"/>
<rect x="321.5" y="155.54" width="18.80000000000001" height="2.59" fill="rgb(240, 235, 235)"/>
<rect x="321.5" y="157.17" width="18.80000000000001" height="0.9" fill="#ffffff" opacity="0.85"/>
<rect x="321.5" y="158.07" width="18.80000000000001" height="2.59" fill="rgb(240, 220, 220)"/>
<rect x="321.5" y="159.71" width="18.80000000000001" height="0.9" fill="#ffffff" opacity="0.85"/>
<rect x="321.5" y="160.61" width="18.80000000000001" height="2.59" fill="rgb(240, 205, 208)"/>
<rect x="321.5" y="162.25" width="18.80000000000001" height="0.9" fill="#ffffff" opacity="0.85"/>
<rect x="321.5" y="163.15" width="18.80000000000001" height="2.59" fill="rgb(240, 189, 198)"/>
<rect x="321.5" y="164.79" width="18.80000000000001" height="0.9" fill="#ffffff" opacity="0.85"/>
<rect x="321.5" y="165.69" width="18.80000000000001" height="2.59" fill="rgb(240, 174, 188)"/>
<rect x="321.5" y="167.32" width="18.80000000000001" height="0.9" fill="#ffffff" opacity="0.85"/>
<rect x="321.5" y="168.22" width="18.80000000000001" height="2.59" fill="rgb(240, 163, 178)"/>
<rect x="321.5" y="169.86" width="18.80000000000001" height="0.9" fill="#ffffff" opacity="0.85"/>
<rect x="321.5" y="170.76" width="18.80000000000001" height="2.59" fill="rgb(240, 154, 168)"/>
<rect x="321.5" y="172.40" width="18.80000000000001" height="0.9" fill="#ffffff" opacity="0.85"/>
<rect x="321.5" y="173.30" width="18.80000000000001" height="2.59" fill="rgb(240, 142, 163)"/>
<rect x="321.5" y="174.94" width="18.80000000000001" height="0.9" fill="#ffffff" opacity="0.85"/>
<rect x="321.5" y="175.84" width="18.80000000000001" height="2.59" fill="rgb(240, 132, 156)"/>
<rect x="321.5" y="177.47" width="18.80000000000001" height="0.9" fill="#ffffff" opacity="0.85"/>
<rect x="321.5" y="178.38" width="18.80000000000001" height="2.59" fill="rgb(240, 121, 145)"/>
<rect x="321.5" y="180.01" width="18.80000000000001" height="0.9" fill="#ffffff" opacity="0.85"/>
<rect x="321.5" y="180.91" width="18.80000000000001" height="2.59" fill="rgb(236, 107, 131)"/>
<rect x="321.5" y="182.55" width="18.80000000000001" height="0.9" fill="#ffffff" opacity="0.85"/>
<rect x="321.5" y="183.45" width="18.80000000000001" height="2.59" fill="rgb(231, 86, 111)"/>
<rect x="321.5" y="185.09" width="18.80000000000001" height="0.9" fill="#ffffff" opacity="0.85"/>
<rect x="321.5" y="185.99" width="18.80000000000001" height="2.59" fill="rgb(225, 50, 81)"/>
<rect x="321.5" y="187.62" width="18.80000000000001" height="0.9" fill="#ffffff" opacity="0.85"/>
<rect x="321.5" y="188.53" width="18.80000000000001" height="2.59" fill="rgb(228, 44, 54)"/>
<rect x="321.5" y="190.46" width="18.80000000000001" height="0.6" fill="rgb(125, 24, 29)"/>
<rect x="321.5" y="191.06" width="18.80000000000001" height="2.59" fill="rgb(233, 51, 31)"/>
<rect x="321.5" y="193.00" width="18.80000000000001" height="0.6" fill="rgb(128, 28, 17)"/>
<rect x="321.5" y="193.60" width="18.80000000000001" height="2.59" fill="rgb(238, 71, 21)"/>
<rect x="321.5" y="195.54" width="18.80000000000001" height="0.6" fill="rgb(130, 39, 11)"/>
<rect x="321.5" y="196.14" width="18.80000000000001" height="2.59" fill="rgb(240, 94, 16)"/>
<rect x="321.5" y="198.07" width="18.80000000000001" height="0.6" fill="rgb(132, 51, 8)"/>
<rect x="321.5" y="198.68" width="18.80000000000001" height="2.59" fill="rgb(240, 119, 16)"/>
<rect x="321.5" y="200.61" width="18.80000000000001" height="0.6" fill="rgb(132, 65, 8)"/>
<rect x="321.5" y="201.21" width="18.80000000000001" height="2.59" fill="rgb(240, 145, 26)"/>
<rect x="321.5" y="203.15" width="18.80000000000001" height="0.6" fill="rgb(132, 79, 14)"/>
<rect x="321.5" y="203.75" width="18.80000000000001" height="2.59" fill="rgb(240, 174, 37)"/>
<rect x="321.5" y="205.69" width="18.80000000000001" height="0.6" fill="rgb(132, 95, 20)"/>
<rect x="321.5" y="206.29" width="18.80000000000001" height="2.59" fill="rgb(240, 206, 51)"/>
<rect x="321.5" y="208.22" width="18.80000000000001" height="0.6" fill="rgb(132, 113, 28)"/>
<rect x="321.5" y="208.82" width="18.80000000000001" height="2.59" fill="rgb(239, 232, 64)"/>
<rect x="321.5" y="210.76" width="18.80000000000001" height="0.6" fill="rgb(131, 127, 35)"/>
<rect x="321.5" y="211.36" width="18.80000000000001" height="2.59" fill="rgb(205, 232, 64)"/>
<rect x="321.5" y="213.30" width="18.80000000000001" height="0.6" fill="rgb(112, 127, 35)"/>
<rect x="321.5" y="213.90" width="18.80000000000001" height="2.59" fill="rgb(125, 215, 64)"/>
<rect x="321.5" y="215.84" width="18.80000000000001" height="0.6" fill="rgb(68, 118, 35)"/>
<rect x="321.5" y="216.44" width="18.80000000000001" height="2.59" fill="rgb(82, 201, 64)"/>
<rect x="321.5" y="218.38" width="18.80000000000001" height="0.6" fill="rgb(45, 110, 35)"/>
<rect x="321.5" y="218.98" width="18.80000000000001" height="2.59" fill="rgb(63, 191, 66)"/>
<rect x="321.5" y="220.91" width="18.80000000000001" height="0.6" fill="rgb(34, 105, 36)"/>
<rect x="321.5" y="221.51" width="18.80000000000001" height="2.59" fill="rgb(53, 181, 86)"/>
<rect x="321.5" y="223.45" width="18.80000000000001" height="0.6" fill="rgb(29, 99, 47)"/>
<rect x="321.5" y="224.05" width="18.80000000000001" height="2.59" fill="rgb(41, 162, 124)"/>
<rect x="321.5" y="225.99" width="18.80000000000001" height="0.6" fill="rgb(22, 89, 68)"/>
<rect x="321.5" y="226.59" width="18.80000000000001" height="2.59" fill="rgb(32, 135, 169)"/>
<rect x="321.5" y="228.53" width="18.80000000000001" height="0.6" fill="rgb(17, 74, 92)"/>
<rect x="321.5" y="229.12" width="18.80000000000001" height="2.59" fill="rgb(34, 106, 193)"/>
<rect x="321.5" y="231.06" width="18.80000000000001" height="0.6" fill="rgb(18, 58, 106)"/>
<rect x="321.5" y="231.66" width="18.80000000000001" height="2.59" fill="rgb(48, 65, 200)"/>
<rect x="321.5" y="233.60" width="18.80000000000001" height="0.6" fill="rgb(26, 35, 110)"/>
<rect x="321.5" y="234.20" width="18.80000000000001" height="2.59" fill="rgb(54, 58, 197)"/>
<rect x="321.5" y="236.14" width="18.80000000000001" height="0.6" fill="rgb(29, 31, 108)"/>
<rect x="321.5" y="236.74" width="18.80000000000001" height="2.59" fill="rgb(59, 53, 194)"/>
<rect x="321.5" y="238.68" width="18.80000000000001" height="0.6" fill="rgb(32, 29, 106)"/>
<rect x="321.5" y="239.28" width="18.80000000000001" height="2.59" fill="rgb(65, 47, 191)"/>
<rect x="321.5" y="241.21" width="18.80000000000001" height="0.6" fill="rgb(35, 25, 105)"/>
<rect x="321.5" y="241.81" width="18.80000000000001" height="2.59" fill="rgb(68, 44, 185)"/>
<rect x="321.5" y="243.75" width="18.80000000000001" height="0.6" fill="rgb(37, 24, 101)"/>
<rect x="321.5" y="244.35" width="18.80000000000001" height="2.59" fill="rgb(70, 42, 179)"/>
<rect x="321.5" y="246.29" width="18.80000000000001" height="0.6" fill="rgb(38, 23, 98)"/>
<rect x="321.5" y="246.89" width="18.80000000000001" height="2.59" fill="rgb(73, 39, 175)"/>
<rect x="321.5" y="248.82" width="18.80000000000001" height="0.6" fill="rgb(40, 21, 96)"/>
<rect x="321.5" y="249.43" width="18.80000000000001" height="2.59" fill="rgb(76, 36, 172)"/>
<rect x="321.5" y="251.36" width="18.80000000000001" height="0.6" fill="rgb(41, 19, 94)"/>
<rect x="321.5" y="251.96" width="18.80000000000001" height="2.59" fill="rgb(79, 33, 169)"/>
<rect x="321.5" y="253.90" width="18.80000000000001" height="0.6" fill="rgb(43, 18, 92)"/>
<rect x="334.8" y="153" width="5.5" height="101.5" fill="#000" opacity="0.18"/>
<text x="350.8" y="33.7" font-size="5.6" fill="#e6e6e6" font-weight="bold" text-anchor="middle">120</text>
<text x="350.8" y="40.480000000000004" font-size="5.6" fill="#e6e6e6" font-weight="bold" text-anchor="middle">100</text>
<text x="350.8" y="47.260000000000005" font-size="5.6" fill="#e6e6e6" font-weight="bold" text-anchor="middle">80</text>
<text x="350.8" y="54.040000000000006" font-size="5.6" fill="#e6e6e6" font-weight="bold" text-anchor="middle">60</text>
<text x="350.8" y="60.82000000000001" font-size="5.6" fill="#e6e6e6" font-weight="bold" text-anchor="middle">40</text>
<text x="350.8" y="67.6" font-size="5.6" fill="#e6e6e6" font-weight="bold" text-anchor="middle">20</text>
<text x="350.8" y="74.38" font-size="5.6" fill="#e6e6e6" font-weight="bold" text-anchor="middle">0</text>
<text x="348.9" y="81.16" font-size="5.6" fill="#e6e6e6" font-weight="bold" text-anchor="middle">-20</text>
<text x="348.9" y="87.94" font-size="5.6" fill="#e6e6e6" font-weight="bold" text-anchor="middle">-40</text>
<text x="348.9" y="94.72" font-size="5.6" fill="#e6e6e6" font-weight="bold" text-anchor="middle">-60</text>
<text x="348.9" y="101.5" font-size="5.6" fill="#e6e6e6" font-weight="bold" text-anchor="middle">-80</text>
<text x="348.9" y="108.28" font-size="5.6" fill="#e6e6e6" font-weight="bold" text-anchor="middle">-100</text>
<text x="348.9" y="115.06" font-size="5.6" fill="#e6e6e6" font-weight="bold" text-anchor="middle">-120</text>
<text x="350.7" y="156.2" font-size="5.3" fill="#c8c8c8" font-weight="bold" text-anchor="middle">65.5</text>
<text x="350.7" y="164.04999999999998" font-size="5.3" fill="#c8c8c8" font-weight="bold" text-anchor="middle">62.5</text>
<text x="350.7" y="171.89999999999998" font-size="5.3" fill="#c8c8c8" font-weight="bold" text-anchor="middle">59.5</text>
<text x="350.7" y="179.75" font-size="5.3" fill="#c8c8c8" font-weight="bold" text-anchor="middle">56.5</text>
<text x="350.7" y="187.6" font-size="5.3" fill="#c8c8c8" font-weight="bold" text-anchor="middle">53.5</text>
<text x="350.7" y="195.45" font-size="5.3" fill="#c8c8c8" font-weight="bold" text-anchor="middle">50.5</text>
<text x="350.7" y="203.29999999999998" font-size="5.3" fill="#c8c8c8" font-weight="bold" text-anchor="middle">47.5</text>
<text x="350.7" y="211.14999999999998" font-size="5.3" fill="#c8c8c8" font-weight="bold" text-anchor="middle">44.5</text>
<text x="350.7" y="219.0" font-size="5.3" fill="#c8c8c8" font-weight="bold" text-anchor="middle">41.5</text>
<text x="350.7" y="226.84999999999997" font-size="5.3" fill="#c8c8c8" font-weight="bold" text-anchor="middle">38.5</text>
<text x="350.7" y="234.7" font-size="5.3" fill="#c8c8c8" font-weight="bold" text-anchor="middle">35.5</text>
<text x="350.7" y="242.54999999999998" font-size="5.3" fill="#c8c8c8" font-weight="bold" text-anchor="middle">32.5</text>
<text x="350.7" y="250.39999999999998" font-size="5.3" fill="#c8c8c8" font-weight="bold" text-anchor="middle">29.5</text>
<text x="321.2" y="131.9" font-size="7" fill="#40c8d0" font-weight="bold" textLength="34.8" lengthAdjust="spacingAndGlyphs">5.0um step</text>
<text x="321.2" y="140" font-size="7" fill="#e0e0e0" font-weight="bold" textLength="10" lengthAdjust="spacingAndGlyphs">um</text>
<text x="322.0" y="262.9" font-size="5" fill="#30a8c0" textLength="33.3" lengthAdjust="spacingAndGlyphs">Klyce/Wilson</text>
<text x="322.0" y="273" font-size="7.8" fill="#d8d8d8" font-weight="bold" textLength="13.5" lengthAdjust="spacingAndGlyphs">Diop</text>
<text x="1.8" y="30.2" font-size="9.6" fill="#48cad8" font-weight="bold" textLength="76.6" lengthAdjust="spacingAndGlyphs" stroke="#48cad8" stroke-width="0.3">Elevation[Anterior]</text>
<text x="183.6" y="30.2" font-size="9.6" fill="#48cad8" font-weight="bold" textLength="81.4" lengthAdjust="spacingAndGlyphs" stroke="#48cad8" stroke-width="0.3">Elevation[Posterior]</text>
<text x="2.1" y="161.4" font-size="8.6" fill="#48cad8" font-weight="bold" textLength="121.1" lengthAdjust="spacingAndGlyphs">Instantaneous Power[Keratometric]</text>
<text x="183.7" y="162" font-size="10.1" fill="#48cad8" font-weight="bold" textLength="110.9" lengthAdjust="spacingAndGlyphs">Instantaneous Power[Real]</text>
<defs>
<filter id="noiseW" x="0" y="0" width="100%" height="100%">
 <feTurbulence type="fractalNoise" baseFrequency="0.28" numOctaves="2" seed="7"/>
 <feColorMatrix type="matrix" values="0 0 0 0 1  0 0 0 0 1  0 0 0 0 1  1.6 0 0 0 -0.7"/>
</filter>
<filter id="noiseB" x="0" y="0" width="100%" height="100%">
 <feTurbulence type="fractalNoise" baseFrequency="0.28" numOctaves="2" seed="13"/>
 <feColorMatrix type="matrix" values="0 0 0 0 0  0 0 0 0 0  0 0 0 0 0  1.6 0 0 0 -0.7"/>
</filter>
<filter id="mb06" x="-10%" y="-10%" width="120%" height="120%"><feGaussianBlur stdDeviation="0.6"/></filter>
<filter id="mb1" x="-20%" y="-20%" width="140%" height="140%"><feGaussianBlur stdDeviation="1"/></filter>
<filter id="mb15" x="-30%" y="-30%" width="160%" height="160%"><feGaussianBlur stdDeviation="1.5"/></filter>
<filter id="mb2" x="-40%" y="-40%" width="180%" height="180%"><feGaussianBlur stdDeviation="2.2"/></filter>
<filter id="mb3" x="-50%" y="-50%" width="200%" height="200%"><feGaussianBlur stdDeviation="3.2"/></filter>
<filter id="mb5" x="-60%" y="-60%" width="220%" height="220%"><feGaussianBlur stdDeviation="5"/></filter>
<filter id="mb9" x="-60%" y="-60%" width="220%" height="220%"><feGaussianBlur stdDeviation="9"/></filter>
<linearGradient id="ringG" gradientUnits="userSpaceOnUse" x1="40" y1="60" x2="110" y2="100"><stop offset="0" stop-color="#000"/><stop offset="0.55" stop-color="#555"/><stop offset="1" stop-color="#fff"/></linearGradient>
<linearGradient id="rimG" gradientUnits="userSpaceOnUse" x1="205" y1="190" x2="290" y2="230"><stop offset="0" stop-color="#40c840"/><stop offset="0.55" stop-color="#40c840"/><stop offset="0.8" stop-color="#3a38c0"/></linearGradient>
<linearGradient id="ringG2" gradientUnits="userSpaceOnUse" x1="50" y1="70" x2="115" y2="90"><stop offset="0" stop-color="#000"/><stop offset="0.5" stop-color="#666"/><stop offset="1" stop-color="#fff"/></linearGradient>
<radialGradient id="m3rad" gradientUnits="userSpaceOnUse" cx="67" cy="215.5" r="45"><stop offset="0.6" stop-color="#2c5ad6"/><stop offset="0.76" stop-color="#3048d0"/><stop offset="0.86" stop-color="#4238c0"/><stop offset="1" stop-color="#4c3ab8"/></radialGradient>
<pattern id="dotgrid" x="0" y="0" width="4.2" height="4.2" patternUnits="userSpaceOnUse">
 <circle cx="1" cy="1" r="0.8" fill="#2434b0"/><circle cx="3.1" cy="3.1" r="0.8" fill="#2434b0"/>
</pattern>
<clipPath id="disc1"><ellipse cx="67.3" cy="86" rx="45" ry="47.5"/></clipPath>
<clipPath id="panel1"><rect x="0" y="19.2" width="135" height="129.8"/></clipPath>
<clipPath id="out1"><path clip-rule="evenodd" d="M0,19.2 h135 v129.8 h-135 Z M22.299999999999997,86 a45,47.5 0 1,0 90,0 a45,47.5 0 1,0 -90,0 Z"/></clipPath>
<clipPath id="disc2"><ellipse cx="249" cy="85.5" rx="45.5" ry="47"/></clipPath>
<clipPath id="panel2"><rect x="180.4" y="19.2" width="136.6" height="129.8"/></clipPath>
<clipPath id="out2"><path clip-rule="evenodd" d="M180.4,19.2 h136.6 v129.8 h-136.6 Z M203.5,85.5 a45.5,47 0 1,0 91.0,0 a45.5,47 0 1,0 -91.0,0 Z"/></clipPath>
<clipPath id="disc3"><ellipse cx="66.5" cy="215" rx="45" ry="44.5"/></clipPath>
<clipPath id="panel3"><rect x="0" y="151" width="135" height="130.5"/></clipPath>
<clipPath id="out3"><path clip-rule="evenodd" d="M0,151 h135 v130.5 h-135 Z M21.5,215 a45,44.5 0 1,0 90,0 a45,44.5 0 1,0 -90,0 Z"/></clipPath>
<clipPath id="disc4"><ellipse cx="247" cy="216.2" rx="42.5" ry="43.2"/></clipPath>
<clipPath id="panel4"><rect x="180.4" y="151" width="136.6" height="130.5"/></clipPath>
<clipPath id="out4"><path clip-rule="evenodd" d="M180.4,151 h136.6 v130.5 h-136.6 Z M204.5,216.2 a42.5,43.2 0 1,0 85.0,0 a42.5,43.2 0 1,0 -85.0,0 Z"/></clipPath>
</defs>
<g clip-path="url(#panel1)">
<mask id="pm1" maskUnits="userSpaceOnUse" x="0" y="19.2" width="135" height="129.8"><g transform="translate(0,0)">
<path d="M99,33 C112,29 130,30 136,33 L137,137 L16,137 C22,131 50,127 78,127 C94,118 98,80 99,33 Z" fill="#8a8a8a" filter="url(#mb5)"/>
<ellipse cx="67.3" cy="86" rx="53" ry="53" fill="none" stroke="url(#ringG)" stroke-width="13" filter="url(#mb3)"/>
<ellipse cx="130" cy="28" rx="14" ry="9" fill="#000" filter="url(#mb5)"/>
<ellipse cx="118" cy="38" rx="20" ry="9" fill="#000" filter="url(#mb5)" opacity="0.55"/>
<ellipse cx="6" cy="132" rx="18" ry="7" fill="#000" filter="url(#mb5)"/>
<ellipse cx="67.3" cy="86" rx="47.5" ry="49" fill="none" stroke="#000" stroke-width="4" filter="url(#mb15)" opacity="0.6"/>
<rect x="-5" y="136.3" width="150" height="20" fill="#000"/>
</g></mask>
<g mask="url(#pm1)"><rect x="0" y="19.2" width="135" height="129.8" fill="#a0a0a0"/>
<rect x="0" y="19.2" width="135" height="129.8" filter="url(#noiseW)"/>
<rect x="0" y="19.2" width="135" height="129.8" filter="url(#noiseB)"/></g>

<g clip-path="url(#disc1)">
<rect x="15" y="35" width="105" height="105" fill="#f2d81e"/>
<ellipse cx="30" cy="118" rx="14" ry="16" fill="#f0a020" filter="url(#mb3)" opacity="0.8"/>
<ellipse cx="122" cy="90" rx="28" ry="46" fill="#f07020" filter="url(#mb3)"/>
<ellipse cx="126" cy="90" rx="18.5" ry="42" fill="#e02a1a" filter="url(#mb2)"/>
<ellipse cx="20" cy="104" rx="7" ry="20" fill="#f09020" filter="url(#mb3)"/>
<path d="M34,68 C45,69.5 58,72 68,73.5 C78,72 84,68 88.5,62.5 L91,70 C88,78 82,82 76,84.5 C68,86 58,84 48,83.5 C42,83.5 37,83 34,82 Z" fill="#4cc44c" filter="url(#mb15)"/>
<path d="M36.5,71 C35.5,62 40,52 51,47 C59,43 70,43 77,44.5 C82,46 84,52 85,60 C86,66 87,70 88,73 L80,75.5 C72,76.5 62,75.5 54,74.5 C46,73.5 40,72.5 36.5,71 Z" fill="#7cd2ee" stroke="#46c23c" stroke-width="2.4" filter="url(#mb1)"/>
<path d="M89,71 C91,80 94,88 97.5,95 C101,105 100,118 93,124 C86,130 72,131.5 61,129.5 C51,127 46,120 46,113 C46,106 52,102 60,101.5 C66,101 71,100 72.5,95 C73.5,90 75,86 78,83.5 C83,80 87,76 89,71 Z" fill="#7cd2ee" stroke="#46c23c" stroke-width="2.4" filter="url(#mb06)"/>
<path d="M47,110 C58,108 70,106 80,104 C88,103 96,104 99,108 C99,118 92,124 84,129 C72,132 58,129 50,124 C46,119 45,114 47,110 Z" fill="url(#dotgrid)" opacity="0.75"/>
</g>
<g clip-path="url(#disc1)" fill="#7a2a2a">
<circle cx="110.3" cy="92.8" r="0.6"/>
<circle cx="109.6" cy="96.2" r="0.6"/>
<circle cx="108.7" cy="99.4" r="0.6"/>
<circle cx="107.5" cy="102.6" r="0.6"/>
<circle cx="106.1" cy="105.7" r="0.6"/>
<circle cx="104.4" cy="108.7" r="0.6"/>
<circle cx="102.5" cy="111.6" r="0.6"/>
<circle cx="100.4" cy="114.3" r="0.6"/>
<circle cx="98.1" cy="116.8" r="0.6"/>
<circle cx="95.6" cy="119.1" r="0.6"/>
<circle cx="92.9" cy="121.2" r="0.6"/>
<circle cx="90.0" cy="123.1" r="0.6"/>
<circle cx="87.0" cy="124.8" r="0.6"/>
<circle cx="83.9" cy="126.2" r="0.6"/>
<circle cx="80.7" cy="127.4" r="0.6"/>
<circle cx="77.5" cy="128.3" r="0.6"/>
<circle cx="74.1" cy="129.0" r="0.6"/>
<circle cx="70.7" cy="129.4" r="0.6"/>
<circle cx="67.3" cy="129.5" r="0.6"/>
<circle cx="63.9" cy="129.4" r="0.6"/>
<circle cx="60.5" cy="129.0" r="0.6"/>
<circle cx="57.1" cy="128.3" r="0.6"/>
<circle cx="53.9" cy="127.4" r="0.6"/>
<circle cx="50.7" cy="126.2" r="0.6"/>
<circle cx="47.6" cy="124.8" r="0.6"/>
<circle cx="44.6" cy="123.1" r="0.6"/>
<circle cx="41.7" cy="121.2" r="0.6"/>
<circle cx="39.0" cy="119.1" r="0.6"/>
<circle cx="36.5" cy="116.8" r="0.6"/>
<circle cx="34.2" cy="114.3" r="0.6"/>
<circle cx="32.1" cy="111.6" r="0.6"/>
<circle cx="30.2" cy="108.7" r="0.6"/>
<circle cx="28.5" cy="105.7" r="0.6"/>
<circle cx="27.1" cy="102.6" r="0.6"/>
<circle cx="25.9" cy="99.4" r="0.6"/>
<circle cx="25.0" cy="96.2" r="0.6"/>
<circle cx="24.3" cy="92.8" r="0.6"/>
</g>
<g transform="translate(0,0)" fill="none" stroke-width="0.8" stroke-dasharray="1.2 2"><line x1="21" y1="112" x2="120" y2="57" stroke="#a03a3a"/><line x1="36" y1="44" x2="60" y2="72" stroke="#2a40a0"/></g><circle cx="64" cy="85" r="18.5" fill="none" stroke="#2a4aa0" stroke-width="0.6"/>
<line x1="53.5" y1="61.6" x2="80.7" y2="107.0" stroke="#101010" stroke-width="1.15" stroke-linecap="round"/>
<line x1="53.5" y1="61.6" x2="61.7" y2="75.2" stroke="#b82222" stroke-width="1.6" stroke-linecap="round"/>
<line x1="72.5" y1="93.4" x2="80.7" y2="107.0" stroke="#b82222" stroke-width="1.6" stroke-linecap="round"/>
<line x1="45.2" y1="98.8" x2="89.6" y2="69.8" stroke="#101010" stroke-width="1.15" stroke-linecap="round"/>
<line x1="45.2" y1="98.8" x2="58.5" y2="90.1" stroke="#2626b0" stroke-width="1.6" stroke-linecap="round"/>
<line x1="76.3" y1="78.5" x2="89.6" y2="69.8" stroke="#2626b0" stroke-width="1.6" stroke-linecap="round"/>
<text x="66.5" y="52.7" font-size="7" fill="#282c36" font-weight="bold" text-anchor="middle" textLength="8.6" lengthAdjust="spacingAndGlyphs" stroke="#5a6470" stroke-opacity="0.45" stroke-width="1.3" paint-order="stroke" stroke-linejoin="round">-14</text>
<text x="43.6" y="62.2" font-size="7" fill="#282c36" font-weight="bold" text-anchor="middle" textLength="8.6" lengthAdjust="spacingAndGlyphs" stroke="#5a6470" stroke-opacity="0.45" stroke-width="1.3" paint-order="stroke" stroke-linejoin="round">-28</text>
<text x="66.5" y="62.2" font-size="7" fill="#282c36" font-weight="bold" text-anchor="middle" textLength="8.6" lengthAdjust="spacingAndGlyphs" stroke="#5a6470" stroke-opacity="0.45" stroke-width="1.3" paint-order="stroke" stroke-linejoin="round">-38</text>
<text x="50.0" y="69.2" font-size="7" fill="#282c36" font-weight="bold" text-anchor="middle" textLength="8.6" lengthAdjust="spacingAndGlyphs" stroke="#5a6470" stroke-opacity="0.45" stroke-width="1.3" paint-order="stroke" stroke-linejoin="round">-35</text>
<text x="66.5" y="71.0" font-size="7" fill="#282c36" font-weight="bold" text-anchor="middle" textLength="8.6" lengthAdjust="spacingAndGlyphs" stroke="#5a6470" stroke-opacity="0.45" stroke-width="1.3" paint-order="stroke" stroke-linejoin="round">-31</text>
<text x="76.0" y="75.5" font-size="7" fill="#282c36" font-weight="bold" text-anchor="middle" textLength="5.29" lengthAdjust="spacingAndGlyphs" stroke="#5a6470" stroke-opacity="0.45" stroke-width="1.3" paint-order="stroke" stroke-linejoin="round">-5</text>
<text x="56.2" y="74.9" font-size="7" fill="#282c36" font-weight="bold" text-anchor="middle" textLength="8.6" lengthAdjust="spacingAndGlyphs" stroke="#5a6470" stroke-opacity="0.45" stroke-width="1.3" paint-order="stroke" stroke-linejoin="round">-19</text>
<text x="82.6" y="68.0" font-size="7" fill="#282c36" font-weight="bold" text-anchor="middle" textLength="5.29" lengthAdjust="spacingAndGlyphs" stroke="#5a6470" stroke-opacity="0.45" stroke-width="1.3" paint-order="stroke" stroke-linejoin="round">-1</text>
<text x="89.0" y="62.8" font-size="7" fill="#282c36" font-weight="bold" text-anchor="middle" textLength="6.62" lengthAdjust="spacingAndGlyphs" stroke="#5a6470" stroke-opacity="0.45" stroke-width="1.3" paint-order="stroke" stroke-linejoin="round">18</text>
<text x="33.8" y="86.8" font-size="7" fill="#282c36" font-weight="bold" text-anchor="middle" textLength="3.31" lengthAdjust="spacingAndGlyphs" stroke="#5a6470" stroke-opacity="0.45" stroke-width="1.3" paint-order="stroke" stroke-linejoin="round">3</text>
<text x="42.7" y="86.8" font-size="7" fill="#282c36" font-weight="bold" text-anchor="middle" textLength="5.29" lengthAdjust="spacingAndGlyphs" stroke="#5a6470" stroke-opacity="0.45" stroke-width="1.3" paint-order="stroke" stroke-linejoin="round">-4</text>
<text x="52.8" y="86.8" font-size="7" fill="#282c36" font-weight="bold" text-anchor="middle" textLength="3.31" lengthAdjust="spacingAndGlyphs" stroke="#5a6470" stroke-opacity="0.45" stroke-width="1.3" paint-order="stroke" stroke-linejoin="round">8</text>
<text x="67.3" y="86.0" font-size="7" fill="#282c36" font-weight="bold" text-anchor="middle" textLength="6.62" lengthAdjust="spacingAndGlyphs" stroke="#5a6470" stroke-opacity="0.45" stroke-width="1.3" paint-order="stroke" stroke-linejoin="round">10</text>
<text x="80.4" y="86.8" font-size="7" fill="#282c36" font-weight="bold" text-anchor="middle" textLength="5.29" lengthAdjust="spacingAndGlyphs" stroke="#5a6470" stroke-opacity="0.45" stroke-width="1.3" paint-order="stroke" stroke-linejoin="round">-4</text>
<text x="89.0" y="86.8" font-size="7" fill="#282c36" font-weight="bold" text-anchor="middle" textLength="3.31" lengthAdjust="spacingAndGlyphs" stroke="#5a6470" stroke-opacity="0.45" stroke-width="1.3" paint-order="stroke" stroke-linejoin="round">5</text>
<text x="98.3" y="86.8" font-size="7" fill="#282c36" font-weight="bold" text-anchor="middle" textLength="6.29" lengthAdjust="spacingAndGlyphs" stroke="#5a6470" stroke-opacity="0.45" stroke-width="1.3" paint-order="stroke" stroke-linejoin="round">11</text>
<text x="56.5" y="95.0" font-size="7" fill="#282c36" font-weight="bold" text-anchor="middle" textLength="6.62" lengthAdjust="spacingAndGlyphs" stroke="#5a6470" stroke-opacity="0.45" stroke-width="1.3" paint-order="stroke" stroke-linejoin="round">26</text>
<text x="66.2" y="99.5" font-size="7" fill="#282c36" font-weight="bold" text-anchor="middle" textLength="3.31" lengthAdjust="spacingAndGlyphs" stroke="#5a6470" stroke-opacity="0.45" stroke-width="1.3" paint-order="stroke" stroke-linejoin="round">8</text>
<text x="77.3" y="95.0" font-size="7" fill="#282c36" font-weight="bold" text-anchor="middle" textLength="6.62" lengthAdjust="spacingAndGlyphs" stroke="#5a6470" stroke-opacity="0.45" stroke-width="1.3" paint-order="stroke" stroke-linejoin="round">29</text>
<text x="50.0" y="102.0" font-size="7" fill="#282c36" font-weight="bold" text-anchor="middle" textLength="6.29" lengthAdjust="spacingAndGlyphs" stroke="#5a6470" stroke-opacity="0.45" stroke-width="1.3" paint-order="stroke" stroke-linejoin="round">11</text>
<text x="44.3" y="108.3" font-size="7" fill="#282c36" font-weight="bold" text-anchor="middle" textLength="3.31" lengthAdjust="spacingAndGlyphs" stroke="#5a6470" stroke-opacity="0.45" stroke-width="1.3" paint-order="stroke" stroke-linejoin="round">3</text>
<text x="83.2" y="102.0" font-size="7" fill="#282c36" font-weight="bold" text-anchor="middle" textLength="6.62" lengthAdjust="spacingAndGlyphs" stroke="#5a6470" stroke-opacity="0.45" stroke-width="1.3" paint-order="stroke" stroke-linejoin="round">30</text>
<text x="89.3" y="107.7" font-size="7" fill="#282c36" font-weight="bold" text-anchor="middle" textLength="6.62" lengthAdjust="spacingAndGlyphs" stroke="#5a6470" stroke-opacity="0.45" stroke-width="1.3" paint-order="stroke" stroke-linejoin="round">33</text>
<text x="67.4" y="109.0" font-size="7" fill="#282c36" font-weight="bold" text-anchor="middle" textLength="8.6" lengthAdjust="spacingAndGlyphs" stroke="#5a6470" stroke-opacity="0.45" stroke-width="1.3" paint-order="stroke" stroke-linejoin="round">-30</text>
<text x="66.5" y="119.5" font-size="7" fill="#282c36" font-weight="bold" text-anchor="middle" textLength="8.6" lengthAdjust="spacingAndGlyphs" stroke="#5a6470" stroke-opacity="0.45" stroke-width="1.3" paint-order="stroke" stroke-linejoin="round">-31</text>
<g clip-path="url(#out1)" stroke="#c8c8c8" stroke-width="0.9">
<line x1="117.3" y1="86.0" x2="118.9" y2="86.0"/>
<line x1="117.1" y1="81.6" x2="118.7" y2="81.5"/>
<line x1="116.5" y1="77.3" x2="118.1" y2="77.0"/>
<line x1="115.6" y1="73.1" x2="117.1" y2="72.6"/>
<line x1="114.3" y1="68.9" x2="115.8" y2="68.4"/>
<line x1="112.6" y1="64.9" x2="114.1" y2="64.2"/>
<line x1="110.6" y1="61.0" x2="112.0" y2="60.2"/>
<line x1="108.3" y1="57.3" x2="109.6" y2="56.4"/>
<line x1="105.6" y1="53.9" x2="106.8" y2="52.8"/>
<line x1="102.7" y1="50.6" x2="103.8" y2="49.5"/>
<line x1="99.4" y1="47.7" x2="100.5" y2="46.5"/>
<line x1="96.0" y1="45.0" x2="96.9" y2="43.7"/>
<line x1="92.3" y1="42.7" x2="93.1" y2="41.3"/>
<line x1="88.4" y1="40.7" x2="89.1" y2="39.2"/>
<line x1="84.4" y1="39.0" x2="84.9" y2="37.5"/>
<line x1="80.2" y1="37.7" x2="80.7" y2="36.2"/>
<line x1="76.0" y1="36.8" x2="76.3" y2="35.2"/>
<line x1="71.7" y1="36.2" x2="71.8" y2="34.6"/>
<line x1="67.3" y1="36.0" x2="67.3" y2="34.4"/>
<line x1="62.9" y1="36.2" x2="62.8" y2="34.6"/>
<line x1="58.6" y1="36.8" x2="58.3" y2="35.2"/>
<line x1="54.4" y1="37.7" x2="53.9" y2="36.2"/>
<line x1="50.2" y1="39.0" x2="49.7" y2="37.5"/>
<line x1="46.2" y1="40.7" x2="45.5" y2="39.2"/>
<line x1="42.3" y1="42.7" x2="41.5" y2="41.3"/>
<line x1="38.6" y1="45.0" x2="37.7" y2="43.7"/>
<line x1="35.2" y1="47.7" x2="34.1" y2="46.5"/>
<line x1="31.9" y1="50.6" x2="30.8" y2="49.5"/>
<line x1="29.0" y1="53.9" x2="27.8" y2="52.8"/>
<line x1="26.3" y1="57.3" x2="25.0" y2="56.4"/>
<line x1="24.0" y1="61.0" x2="22.6" y2="60.2"/>
<line x1="22.0" y1="64.9" x2="20.5" y2="64.2"/>
<line x1="20.3" y1="68.9" x2="18.8" y2="68.4"/>
<line x1="19.0" y1="73.1" x2="17.5" y2="72.6"/>
<line x1="18.1" y1="77.3" x2="16.5" y2="77.0"/>
<line x1="17.5" y1="81.6" x2="15.9" y2="81.5"/>
<line x1="17.3" y1="86.0" x2="15.7" y2="86.0"/>
<line x1="17.5" y1="90.4" x2="15.9" y2="90.5"/>
<line x1="18.1" y1="94.7" x2="16.5" y2="95.0"/>
<line x1="19.0" y1="98.9" x2="17.5" y2="99.4"/>
<line x1="20.3" y1="103.1" x2="18.8" y2="103.6"/>
<line x1="22.0" y1="107.1" x2="20.5" y2="107.8"/>
<line x1="24.0" y1="111.0" x2="22.6" y2="111.8"/>
<line x1="26.3" y1="114.7" x2="25.0" y2="115.6"/>
<line x1="29.0" y1="118.1" x2="27.8" y2="119.2"/>
<line x1="31.9" y1="121.4" x2="30.8" y2="122.5"/>
<line x1="35.2" y1="124.3" x2="34.1" y2="125.5"/>
<line x1="38.6" y1="127.0" x2="37.7" y2="128.3"/>
<line x1="42.3" y1="129.3" x2="41.5" y2="130.7"/>
<line x1="46.2" y1="131.3" x2="45.5" y2="132.8"/>
<line x1="50.2" y1="133.0" x2="49.7" y2="134.5"/>
<line x1="54.4" y1="134.3" x2="53.9" y2="135.8"/>
<line x1="58.6" y1="135.2" x2="58.3" y2="136.8"/>
<line x1="62.9" y1="135.8" x2="62.8" y2="137.4"/>
<line x1="67.3" y1="136.0" x2="67.3" y2="137.6"/>
<line x1="71.7" y1="135.8" x2="71.8" y2="137.4"/>
<line x1="76.0" y1="135.2" x2="76.3" y2="136.8"/>
<line x1="80.2" y1="134.3" x2="80.7" y2="135.8"/>
<line x1="84.4" y1="133.0" x2="84.9" y2="134.5"/>
<line x1="88.4" y1="131.3" x2="89.1" y2="132.8"/>
<line x1="92.3" y1="129.3" x2="93.1" y2="130.7"/>
<line x1="96.0" y1="127.0" x2="96.9" y2="128.3"/>
<line x1="99.4" y1="124.3" x2="100.5" y2="125.5"/>
<line x1="102.7" y1="121.4" x2="103.8" y2="122.5"/>
<line x1="105.6" y1="118.1" x2="106.8" y2="119.2"/>
<line x1="108.3" y1="114.7" x2="109.6" y2="115.6"/>
<line x1="110.6" y1="111.0" x2="112.0" y2="111.8"/>
<line x1="112.6" y1="107.1" x2="114.1" y2="107.8"/>
<line x1="114.3" y1="103.1" x2="115.8" y2="103.6"/>
<line x1="115.6" y1="98.9" x2="117.1" y2="99.4"/>
<line x1="116.5" y1="94.7" x2="118.1" y2="95.0"/>
<line x1="117.1" y1="90.4" x2="118.7" y2="90.5"/>
</g>
<g transform="translate(0,0)">
<text x="32.9" y="41.8" font-size="6.7" fill="#f2f2f2" font-weight="bold" stroke="#111" stroke-width="1.1" paint-order="stroke" stroke-linejoin="round">120</text>
<text x="47.4" y="39.3" font-size="6.7" fill="#f2f2f2" font-weight="bold" stroke="#111" stroke-width="1.1" paint-order="stroke" stroke-linejoin="round">105</text>
<text x="62.6" y="37.9" font-size="6.7" fill="#f2f2f2" font-weight="bold" stroke="#111" stroke-width="1.1" paint-order="stroke" stroke-linejoin="round">90</text>
<text x="76.4" y="39.3" font-size="6.7" fill="#f2f2f2" font-weight="bold" stroke="#111" stroke-width="1.1" paint-order="stroke" stroke-linejoin="round">75</text>
<text x="90.9" y="41.8" font-size="6.7" fill="#f2f2f2" font-weight="bold" stroke="#111" stroke-width="1.1" paint-order="stroke" stroke-linejoin="round">60</text>
<text x="20.8" y="46.6" font-size="6.7" fill="#f2f2f2" font-weight="bold" stroke="#111" stroke-width="1.1" paint-order="stroke" stroke-linejoin="round">135</text>
<text x="10.0" y="55.0" font-size="6.7" fill="#f2f2f2" font-weight="bold" stroke="#111" stroke-width="1.1" paint-order="stroke" stroke-linejoin="round">150</text>
<text x="1.5" y="70.3" font-size="6.7" fill="#f2f2f2" font-weight="bold" stroke="#111" stroke-width="1.1" paint-order="stroke" stroke-linejoin="round">165</text>
<text x="7.3" y="86.2" font-size="6.7" fill="#f2f2f2" font-weight="bold" stroke="#111" stroke-width="1.1" paint-order="stroke" stroke-linejoin="round">0</text>
<text x="103.0" y="46.3" font-size="6.7" fill="#f2f2f2" font-weight="bold" stroke="#111" stroke-width="1.1" paint-order="stroke" stroke-linejoin="round">45</text>
<text x="113.7" y="55.0" font-size="6.7" fill="#f2f2f2" font-weight="bold" stroke="#111" stroke-width="1.1" paint-order="stroke" stroke-linejoin="round">30</text>
<text x="122.3" y="69.8" font-size="6.7" fill="#f2f2f2" font-weight="bold" stroke="#111" stroke-width="1.1" paint-order="stroke" stroke-linejoin="round">15</text>
<text x="124.8" y="86.0" font-size="6.7" fill="#f2f2f2" font-weight="bold" stroke="#111" stroke-width="1.1" paint-order="stroke" stroke-linejoin="round">0</text>
<text x="36.7" y="131.7" font-size="6.7" fill="#f2f2f2" font-weight="bold" stroke="#111" stroke-width="1.1" paint-order="stroke" stroke-linejoin="round">60</text>
<text x="51.3" y="133.6" font-size="6.7" fill="#f2f2f2" font-weight="bold" stroke="#111" stroke-width="1.1" paint-order="stroke" stroke-linejoin="round">75</text>
<text x="63.6" y="133.6" font-size="6.7" fill="#f2f2f2" font-weight="bold" stroke="#111" stroke-width="1.1" paint-order="stroke" stroke-linejoin="round">90</text>
<text x="77.2" y="133.6" font-size="6.7" fill="#f2f2f2" font-weight="bold" stroke="#111" stroke-width="1.1" paint-order="stroke" stroke-linejoin="round">105</text>
<text x="90.9" y="130.2" font-size="6.7" fill="#f2f2f2" font-weight="bold" stroke="#111" stroke-width="1.1" paint-order="stroke" stroke-linejoin="round">120</text>
<text x="103.4" y="125.0" font-size="6.7" fill="#f2f2f2" font-weight="bold" stroke="#111" stroke-width="1.1" paint-order="stroke" stroke-linejoin="round">135</text>
<text x="113.5" y="116.6" font-size="6.7" fill="#f2f2f2" font-weight="bold" stroke="#111" stroke-width="1.1" paint-order="stroke" stroke-linejoin="round">150</text>
<text x="126.4" y="102.7" font-size="6.7" fill="#f2f2f2" font-weight="bold" stroke="#111" stroke-width="1.1" paint-order="stroke" stroke-linejoin="round">55</text>
<rect x="13" y="68.5" width="3" height="0.8" fill="#cfcfcf"/>
<rect x="13.5" y="84.4" width="3" height="0.8" fill="#cfcfcf"/>
<text x="117.0" y="93.6" font-size="6.3" fill="#e0e0e0" font-weight="bold" stroke="#111" stroke-width="1.1" paint-order="stroke" stroke-linejoin="round">127</text>
<text x="4.5" y="99.6" font-size="4.6" fill="#d8d8d8" font-weight="bold">15</text>
<text x="71.2" y="48.5" font-size="7" fill="#f0f0f0" font-weight="bold" textLength="29" lengthAdjust="spacingAndGlyphs" stroke="#111" stroke-width="1.1" paint-order="stroke" stroke-linejoin="round">Float. Dia</text>
<text x="106.5" y="48.5" font-size="7" fill="#f0f0f0" font-weight="bold" textLength="26.5" lengthAdjust="spacingAndGlyphs" stroke="#111" stroke-width="1.1" paint-order="stroke" stroke-linejoin="round">9.00[mm]</text>
<text x="89.0" y="57.7" font-size="7" fill="#f0f0f0" font-weight="bold" textLength="11.5" lengthAdjust="spacingAndGlyphs" stroke="#111" stroke-width="1.1" paint-order="stroke" stroke-linejoin="round">BFS</text>
<text x="103.0" y="57.7" font-size="7" fill="#f0f0f0" font-weight="bold" textLength="30" lengthAdjust="spacingAndGlyphs" stroke="#111" stroke-width="1.1" paint-order="stroke" stroke-linejoin="round">8.05[mm]</text>
<text x="0.8" y="104.8" font-size="7" fill="#eeeeee" font-weight="bold" textLength="15.5" lengthAdjust="spacingAndGlyphs" stroke="#111" stroke-width="1.1" paint-order="stroke" stroke-linejoin="round">Pupil</text>
<text x="0.8" y="114.6" font-size="7" fill="#eeeeee" font-weight="bold" textLength="6.2" lengthAdjust="spacingAndGlyphs" stroke="#111" stroke-width="1.1" paint-order="stroke" stroke-linejoin="round">X=</text>
<text x="27.7" y="114.6" font-size="7" fill="#eeeeee" font-weight="bold" text-anchor="end" stroke="#111" stroke-width="1.1" paint-order="stroke" stroke-linejoin="round">-0.29</text>
<text x="0.8" y="124.0" font-size="7" fill="#eeeeee" font-weight="bold" textLength="6.2" lengthAdjust="spacingAndGlyphs" stroke="#111" stroke-width="1.1" paint-order="stroke" stroke-linejoin="round">Y=</text>
<text x="24.5" y="124.0" font-size="7" fill="#eeeeee" font-weight="bold" text-anchor="end" stroke="#111" stroke-width="1.1" paint-order="stroke" stroke-linejoin="round">0.13</text>
<text x="0.8" y="133.8" font-size="7" fill="#eeeeee" font-weight="bold" textLength="6.2" lengthAdjust="spacingAndGlyphs" stroke="#111" stroke-width="1.1" paint-order="stroke" stroke-linejoin="round">D=</text>
<text x="27.7" y="133.8" font-size="7" fill="#eeeeee" font-weight="bold" text-anchor="end" stroke="#111" stroke-width="1.1" paint-order="stroke" stroke-linejoin="round">4.09</text>
<text x="107.0" y="105.5" font-size="7.2" fill="#34d034" font-weight="bold" textLength="20.4" lengthAdjust="spacingAndGlyphs" stroke="#111" stroke-width="1.1" paint-order="stroke" stroke-linejoin="round">Offsets</text>
<text x="107.0" y="114.7" font-size="7.2" fill="#34d034" font-weight="bold" stroke="#111" stroke-width="1.1" paint-order="stroke" stroke-linejoin="round">X=</text>
<text x="133.2" y="114.7" font-size="7.2" fill="#34d034" font-weight="bold" text-anchor="end" stroke="#111" stroke-width="1.1" paint-order="stroke" stroke-linejoin="round">0.12</text>
<text x="107.0" y="124.0" font-size="7.2" fill="#34d034" font-weight="bold" stroke="#111" stroke-width="1.1" paint-order="stroke" stroke-linejoin="round">Y=</text>
<text x="133.2" y="124.0" font-size="7.2" fill="#34d034" font-weight="bold" text-anchor="end" stroke="#111" stroke-width="1.1" paint-order="stroke" stroke-linejoin="round">0.04</text>
<text x="107.0" y="133.2" font-size="7.2" fill="#34d034" font-weight="bold" stroke="#111" stroke-width="1.1" paint-order="stroke" stroke-linejoin="round">Z=</text>
<text x="133.2" y="133.2" font-size="7.2" fill="#34d034" font-weight="bold" text-anchor="end" stroke="#111" stroke-width="1.1" paint-order="stroke" stroke-linejoin="round">0.09</text>
<text x="104.0" y="39.8" font-size="7" fill="#e47c3c" font-weight="bold" textLength="28.3" lengthAdjust="spacingAndGlyphs">MERGED</text>
</g>
</g>
<g clip-path="url(#panel2)">
<mask id="pm2" maskUnits="userSpaceOnUse" x="180.4" y="19.2" width="136.6" height="129.8"><g transform="translate(181.5,-0.5)">
<path d="M99,33 C112,29 130,30 136,33 L137,137 L16,137 C22,131 50,127 78,127 C94,118 98,80 99,33 Z" fill="#8a8a8a" filter="url(#mb5)"/>
<ellipse cx="67.3" cy="86" rx="53" ry="53" fill="none" stroke="url(#ringG)" stroke-width="13" filter="url(#mb3)"/>
<ellipse cx="130" cy="28" rx="14" ry="9" fill="#000" filter="url(#mb5)"/>
<ellipse cx="118" cy="38" rx="20" ry="9" fill="#000" filter="url(#mb5)" opacity="0.55"/>
<ellipse cx="6" cy="132" rx="18" ry="7" fill="#000" filter="url(#mb5)"/>
<ellipse cx="67.3" cy="86" rx="47.5" ry="49" fill="none" stroke="#000" stroke-width="4" filter="url(#mb15)" opacity="0.6"/>
<rect x="-5" y="136.3" width="150" height="20" fill="#000"/>
</g></mask>
<g mask="url(#pm2)"><rect x="180.4" y="19.2" width="136.6" height="129.8" fill="#a0a0a0"/>
<rect x="180.4" y="19.2" width="136.6" height="129.8" filter="url(#noiseW)"/>
<rect x="180.4" y="19.2" width="136.6" height="129.8" filter="url(#noiseB)"/></g>

<g clip-path="url(#disc2)">
<rect x="195" y="35" width="110" height="105" fill="#f2d41e"/>
<ellipse cx="249" cy="85.5" rx="45.5" ry="47" fill="none" stroke="#f08a20" stroke-width="8" filter="url(#mb15)"/>
<ellipse cx="249" cy="85.5" rx="45.5" ry="47" fill="none" stroke="#e84020" stroke-width="3" filter="url(#mb1)"/>
<ellipse cx="282" cy="60" rx="14" ry="20" fill="#f08020" filter="url(#mb3)"/>
<ellipse cx="288" cy="55" rx="12" ry="18" fill="#e84020" filter="url(#mb3)"/>
<ellipse cx="300" cy="80" rx="20" ry="42" fill="#e83a22" filter="url(#mb3)"/>
<ellipse cx="303" cy="72" rx="12" ry="30" fill="#c8206a" filter="url(#mb2)"/>
<ellipse cx="258" cy="40" rx="22" ry="5" fill="#e84020" filter="url(#mb2)"/>
<path d="M217,66 C217,57 223,49 234,45 C245,42 255,43 260,47 C263,53 263,63 266,71 C269,79 278,86 282,96 C285,106 280,117 272,124 C264,130 254,130.5 246,129 C237,126.5 231,120 229.5,113 C229,108 231,104 229,100 C226,96 223,90 223,82 C223,76 219,72 217,66 Z" fill="#76d0f0" stroke="#46c23c" stroke-width="2.4" filter="url(#mb06)"/>
<ellipse cx="256" cy="118" rx="20" ry="10" fill="#3c78e2" filter="url(#mb3)"/>
<ellipse cx="270" cy="106" rx="9" ry="9" fill="#4a98e6" filter="url(#mb3)"/>
<ellipse cx="226" cy="54" rx="8" ry="5" fill="#5aaaea" filter="url(#mb2)"/>
<ellipse cx="243.5" cy="92" rx="13" ry="11" fill="#f2d81e" stroke="#46c23c" stroke-width="2.2" filter="url(#mb06)"/>
<ellipse cx="246" cy="95.5" rx="7" ry="6" fill="#f09020" filter="url(#mb15)"/>
<path d="M234,108 C244,108 256,107 266,104 C274,103 280,105 281,110 C279,119 272,125 262,129 C252,131 242,129 236,124 C232,118 232,112 234,108 Z" fill="url(#dotgrid)" opacity="0.8"/>
</g>
<g clip-path="url(#disc2)" fill="#7a2a2a">
<circle cx="291.8" cy="92.3" r="0.6"/>
<circle cx="291.1" cy="95.7" r="0.6"/>
<circle cx="290.2" cy="98.9" r="0.6"/>
<circle cx="289.0" cy="102.1" r="0.6"/>
<circle cx="287.6" cy="105.2" r="0.6"/>
<circle cx="285.9" cy="108.2" r="0.6"/>
<circle cx="284.0" cy="111.1" r="0.6"/>
<circle cx="281.9" cy="113.8" r="0.6"/>
<circle cx="279.6" cy="116.3" r="0.6"/>
<circle cx="277.1" cy="118.6" r="0.6"/>
<circle cx="274.4" cy="120.7" r="0.6"/>
<circle cx="271.5" cy="122.6" r="0.6"/>
<circle cx="268.5" cy="124.3" r="0.6"/>
<circle cx="265.4" cy="125.7" r="0.6"/>
<circle cx="262.2" cy="126.9" r="0.6"/>
<circle cx="259.0" cy="127.8" r="0.6"/>
<circle cx="255.6" cy="128.5" r="0.6"/>
<circle cx="252.2" cy="128.9" r="0.6"/>
<circle cx="248.8" cy="129.0" r="0.6"/>
<circle cx="245.4" cy="128.9" r="0.6"/>
<circle cx="242.0" cy="128.5" r="0.6"/>
<circle cx="238.6" cy="127.8" r="0.6"/>
<circle cx="235.4" cy="126.9" r="0.6"/>
<circle cx="232.2" cy="125.7" r="0.6"/>
<circle cx="229.1" cy="124.3" r="0.6"/>
<circle cx="226.1" cy="122.6" r="0.6"/>
<circle cx="223.2" cy="120.7" r="0.6"/>
<circle cx="220.5" cy="118.6" r="0.6"/>
<circle cx="218.0" cy="116.3" r="0.6"/>
<circle cx="215.7" cy="113.8" r="0.6"/>
<circle cx="213.6" cy="111.1" r="0.6"/>
<circle cx="211.7" cy="108.2" r="0.6"/>
<circle cx="210.0" cy="105.2" r="0.6"/>
<circle cx="208.6" cy="102.1" r="0.6"/>
<circle cx="207.4" cy="98.9" r="0.6"/>
<circle cx="206.5" cy="95.7" r="0.6"/>
<circle cx="205.8" cy="92.3" r="0.6"/>
</g>
<g transform="translate(181.5,-0.5)" fill="none" stroke-width="0.8" stroke-dasharray="1.2 2"><line x1="21" y1="112" x2="120" y2="57" stroke="#a03a3a"/><line x1="36" y1="44" x2="60" y2="72" stroke="#2a40a0"/></g><circle cx="245.5" cy="84.5" r="18.5" fill="none" stroke="#2a4aa0" stroke-width="0.6"/>
<line x1="237.3" y1="60.0" x2="261.0" y2="107.7" stroke="#101010" stroke-width="1.15" stroke-linecap="round"/>
<line x1="237.3" y1="60.0" x2="244.4" y2="74.3" stroke="#b82222" stroke-width="1.6" stroke-linecap="round"/>
<line x1="253.9" y1="93.4" x2="261.0" y2="107.7" stroke="#b82222" stroke-width="1.6" stroke-linecap="round"/>
<line x1="225.8" y1="97.0" x2="272.0" y2="71.5" stroke="#101010" stroke-width="1.15" stroke-linecap="round"/>
<line x1="225.8" y1="97.0" x2="239.7" y2="89.3" stroke="#2626b0" stroke-width="1.6" stroke-linecap="round"/>
<line x1="258.1" y1="79.2" x2="272.0" y2="71.5" stroke="#2626b0" stroke-width="1.6" stroke-linecap="round"/>
<text x="248.4" y="52.6" font-size="7" fill="#282c36" font-weight="bold" text-anchor="middle" textLength="8.6" lengthAdjust="spacingAndGlyphs" stroke="#5a6470" stroke-opacity="0.45" stroke-width="1.3" paint-order="stroke" stroke-linejoin="round">-28</text>
<text x="226.6" y="62.6" font-size="7" fill="#282c36" font-weight="bold" text-anchor="middle" textLength="8.6" lengthAdjust="spacingAndGlyphs" stroke="#5a6470" stroke-opacity="0.45" stroke-width="1.3" paint-order="stroke" stroke-linejoin="round">-28</text>
<text x="248.4" y="62.0" font-size="7" fill="#282c36" font-weight="bold" text-anchor="middle" textLength="8.6" lengthAdjust="spacingAndGlyphs" stroke="#5a6470" stroke-opacity="0.45" stroke-width="1.3" paint-order="stroke" stroke-linejoin="round">-35</text>
<text x="231.7" y="68.4" font-size="7" fill="#282c36" font-weight="bold" text-anchor="middle" textLength="8.6" lengthAdjust="spacingAndGlyphs" stroke="#5a6470" stroke-opacity="0.45" stroke-width="1.3" paint-order="stroke" stroke-linejoin="round">-35</text>
<text x="248.4" y="71.2" font-size="7" fill="#282c36" font-weight="bold" text-anchor="middle" textLength="8.6" lengthAdjust="spacingAndGlyphs" stroke="#5a6470" stroke-opacity="0.45" stroke-width="1.3" paint-order="stroke" stroke-linejoin="round">-30</text>
<text x="237.0" y="75.6" font-size="7" fill="#282c36" font-weight="bold" text-anchor="middle" textLength="8.6" lengthAdjust="spacingAndGlyphs" stroke="#5a6470" stroke-opacity="0.45" stroke-width="1.3" paint-order="stroke" stroke-linejoin="round">-28</text>
<text x="257.5" y="75.6" font-size="7" fill="#282c36" font-weight="bold" text-anchor="middle" textLength="3.31" lengthAdjust="spacingAndGlyphs" stroke="#5a6470" stroke-opacity="0.45" stroke-width="1.3" paint-order="stroke" stroke-linejoin="round">6</text>
<text x="264.0" y="69.0" font-size="7" fill="#282c36" font-weight="bold" text-anchor="middle" textLength="3.31" lengthAdjust="spacingAndGlyphs" stroke="#5a6470" stroke-opacity="0.45" stroke-width="1.3" paint-order="stroke" stroke-linejoin="round">5</text>
<text x="270.5" y="63.0" font-size="7" fill="#282c36" font-weight="bold" text-anchor="middle" textLength="5.29" lengthAdjust="spacingAndGlyphs" stroke="#5a6470" stroke-opacity="0.45" stroke-width="1.3" paint-order="stroke" stroke-linejoin="round">-5</text>
<text x="212.5" y="86.8" font-size="7" fill="#282c36" font-weight="bold" text-anchor="middle" textLength="3.31" lengthAdjust="spacingAndGlyphs" stroke="#5a6470" stroke-opacity="0.45" stroke-width="1.3" paint-order="stroke" stroke-linejoin="round">5</text>
<text x="221.0" y="86.8" font-size="7" fill="#282c36" font-weight="bold" text-anchor="middle" textLength="5.29" lengthAdjust="spacingAndGlyphs" stroke="#5a6470" stroke-opacity="0.45" stroke-width="1.3" paint-order="stroke" stroke-linejoin="round">-7</text>
<text x="231.0" y="86.8" font-size="7" fill="#282c36" font-weight="bold" text-anchor="middle" textLength="6.62" lengthAdjust="spacingAndGlyphs" stroke="#5a6470" stroke-opacity="0.45" stroke-width="1.3" paint-order="stroke" stroke-linejoin="round">18</text>
<text x="248.5" y="86.0" font-size="7" fill="#282c36" font-weight="bold" text-anchor="middle" textLength="6.62" lengthAdjust="spacingAndGlyphs" stroke="#5a6470" stroke-opacity="0.45" stroke-width="1.3" paint-order="stroke" stroke-linejoin="round">16</text>
<text x="263.0" y="86.8" font-size="7" fill="#282c36" font-weight="bold" text-anchor="middle" textLength="8.27" lengthAdjust="spacingAndGlyphs" stroke="#5a6470" stroke-opacity="0.45" stroke-width="1.3" paint-order="stroke" stroke-linejoin="round">-11</text>
<text x="272.0" y="86.8" font-size="7" fill="#282c36" font-weight="bold" text-anchor="middle" textLength="5.29" lengthAdjust="spacingAndGlyphs" stroke="#5a6470" stroke-opacity="0.45" stroke-width="1.3" paint-order="stroke" stroke-linejoin="round">-7</text>
<text x="280.0" y="86.8" font-size="7" fill="#282c36" font-weight="bold" text-anchor="middle" textLength="6.62" lengthAdjust="spacingAndGlyphs" stroke="#5a6470" stroke-opacity="0.45" stroke-width="1.3" paint-order="stroke" stroke-linejoin="round">17</text>
<text x="238.0" y="95.0" font-size="7" fill="#282c36" font-weight="bold" text-anchor="middle" textLength="6.62" lengthAdjust="spacingAndGlyphs" stroke="#5a6470" stroke-opacity="0.45" stroke-width="1.3" paint-order="stroke" stroke-linejoin="round">35</text>
<text x="249.0" y="99.5" font-size="7" fill="#282c36" font-weight="bold" text-anchor="middle" textLength="6.62" lengthAdjust="spacingAndGlyphs" stroke="#5a6470" stroke-opacity="0.45" stroke-width="1.3" paint-order="stroke" stroke-linejoin="round">17</text>
<text x="260.0" y="95.0" font-size="7" fill="#282c36" font-weight="bold" text-anchor="middle" textLength="8.6" lengthAdjust="spacingAndGlyphs" stroke="#5a6470" stroke-opacity="0.45" stroke-width="1.3" paint-order="stroke" stroke-linejoin="round">-19</text>
<text x="224.0" y="102.0" font-size="7" fill="#282c36" font-weight="bold" text-anchor="middle" textLength="3.31" lengthAdjust="spacingAndGlyphs" stroke="#5a6470" stroke-opacity="0.45" stroke-width="1.3" paint-order="stroke" stroke-linejoin="round">8</text>
<text x="231.0" y="108.0" font-size="7" fill="#282c36" font-weight="bold" text-anchor="middle" textLength="3.31" lengthAdjust="spacingAndGlyphs" stroke="#5a6470" stroke-opacity="0.45" stroke-width="1.3" paint-order="stroke" stroke-linejoin="round">3</text>
<text x="265.0" y="102.0" font-size="7" fill="#282c36" font-weight="bold" text-anchor="middle" textLength="6.62" lengthAdjust="spacingAndGlyphs" stroke="#5a6470" stroke-opacity="0.45" stroke-width="1.3" paint-order="stroke" stroke-linejoin="round">55</text>
<text x="271.0" y="108.0" font-size="7" fill="#282c36" font-weight="bold" text-anchor="middle" textLength="6.62" lengthAdjust="spacingAndGlyphs" stroke="#5a6470" stroke-opacity="0.45" stroke-width="1.3" paint-order="stroke" stroke-linejoin="round">55</text>
<text x="248.0" y="110.0" font-size="7" fill="#282c36" font-weight="bold" text-anchor="middle" textLength="8.6" lengthAdjust="spacingAndGlyphs" stroke="#5a6470" stroke-opacity="0.45" stroke-width="1.3" paint-order="stroke" stroke-linejoin="round">-40</text>
<g clip-path="url(#out2)" stroke="#c8c8c8" stroke-width="0.9">
<line x1="298.8" y1="85.5" x2="300.4" y2="85.5"/>
<line x1="298.6" y1="81.1" x2="300.2" y2="81.0"/>
<line x1="298.0" y1="76.8" x2="299.6" y2="76.5"/>
<line x1="297.1" y1="72.6" x2="298.6" y2="72.1"/>
<line x1="295.8" y1="68.4" x2="297.3" y2="67.9"/>
<line x1="294.1" y1="64.4" x2="295.6" y2="63.7"/>
<line x1="292.1" y1="60.5" x2="293.5" y2="59.7"/>
<line x1="289.8" y1="56.8" x2="291.1" y2="55.9"/>
<line x1="287.1" y1="53.4" x2="288.3" y2="52.3"/>
<line x1="284.2" y1="50.1" x2="285.3" y2="49.0"/>
<line x1="280.9" y1="47.2" x2="282.0" y2="46.0"/>
<line x1="277.5" y1="44.5" x2="278.4" y2="43.2"/>
<line x1="273.8" y1="42.2" x2="274.6" y2="40.8"/>
<line x1="269.9" y1="40.2" x2="270.6" y2="38.7"/>
<line x1="265.9" y1="38.5" x2="266.4" y2="37.0"/>
<line x1="261.7" y1="37.2" x2="262.2" y2="35.7"/>
<line x1="257.5" y1="36.3" x2="257.8" y2="34.7"/>
<line x1="253.2" y1="35.7" x2="253.3" y2="34.1"/>
<line x1="248.8" y1="35.5" x2="248.8" y2="33.9"/>
<line x1="244.4" y1="35.7" x2="244.3" y2="34.1"/>
<line x1="240.1" y1="36.3" x2="239.8" y2="34.7"/>
<line x1="235.9" y1="37.2" x2="235.4" y2="35.7"/>
<line x1="231.7" y1="38.5" x2="231.2" y2="37.0"/>
<line x1="227.7" y1="40.2" x2="227.0" y2="38.7"/>
<line x1="223.8" y1="42.2" x2="223.0" y2="40.8"/>
<line x1="220.1" y1="44.5" x2="219.2" y2="43.2"/>
<line x1="216.7" y1="47.2" x2="215.6" y2="46.0"/>
<line x1="213.4" y1="50.1" x2="212.3" y2="49.0"/>
<line x1="210.5" y1="53.4" x2="209.3" y2="52.3"/>
<line x1="207.8" y1="56.8" x2="206.5" y2="55.9"/>
<line x1="205.5" y1="60.5" x2="204.1" y2="59.7"/>
<line x1="203.5" y1="64.4" x2="202.0" y2="63.7"/>
<line x1="201.8" y1="68.4" x2="200.3" y2="67.9"/>
<line x1="200.5" y1="72.6" x2="199.0" y2="72.1"/>
<line x1="199.6" y1="76.8" x2="198.0" y2="76.5"/>
<line x1="199.0" y1="81.1" x2="197.4" y2="81.0"/>
<line x1="198.8" y1="85.5" x2="197.2" y2="85.5"/>
<line x1="199.0" y1="89.9" x2="197.4" y2="90.0"/>
<line x1="199.6" y1="94.2" x2="198.0" y2="94.5"/>
<line x1="200.5" y1="98.4" x2="199.0" y2="98.9"/>
<line x1="201.8" y1="102.6" x2="200.3" y2="103.1"/>
<line x1="203.5" y1="106.6" x2="202.0" y2="107.3"/>
<line x1="205.5" y1="110.5" x2="204.1" y2="111.3"/>
<line x1="207.8" y1="114.2" x2="206.5" y2="115.1"/>
<line x1="210.5" y1="117.6" x2="209.3" y2="118.7"/>
<line x1="213.4" y1="120.9" x2="212.3" y2="122.0"/>
<line x1="216.7" y1="123.8" x2="215.6" y2="125.0"/>
<line x1="220.1" y1="126.5" x2="219.2" y2="127.8"/>
<line x1="223.8" y1="128.8" x2="223.0" y2="130.2"/>
<line x1="227.7" y1="130.8" x2="227.0" y2="132.3"/>
<line x1="231.7" y1="132.5" x2="231.2" y2="134.0"/>
<line x1="235.9" y1="133.8" x2="235.4" y2="135.3"/>
<line x1="240.1" y1="134.7" x2="239.8" y2="136.3"/>
<line x1="244.4" y1="135.3" x2="244.3" y2="136.9"/>
<line x1="248.8" y1="135.5" x2="248.8" y2="137.1"/>
<line x1="253.2" y1="135.3" x2="253.3" y2="136.9"/>
<line x1="257.5" y1="134.7" x2="257.8" y2="136.3"/>
<line x1="261.7" y1="133.8" x2="262.2" y2="135.3"/>
<line x1="265.9" y1="132.5" x2="266.4" y2="134.0"/>
<line x1="269.9" y1="130.8" x2="270.6" y2="132.3"/>
<line x1="273.8" y1="128.8" x2="274.6" y2="130.2"/>
<line x1="277.5" y1="126.5" x2="278.4" y2="127.8"/>
<line x1="280.9" y1="123.8" x2="282.0" y2="125.0"/>
<line x1="284.2" y1="120.9" x2="285.3" y2="122.0"/>
<line x1="287.1" y1="117.6" x2="288.3" y2="118.7"/>
<line x1="289.8" y1="114.2" x2="291.1" y2="115.1"/>
<line x1="292.1" y1="110.5" x2="293.5" y2="111.3"/>
<line x1="294.1" y1="106.6" x2="295.6" y2="107.3"/>
<line x1="295.8" y1="102.6" x2="297.3" y2="103.1"/>
<line x1="297.1" y1="98.4" x2="298.6" y2="98.9"/>
<line x1="298.0" y1="94.2" x2="299.6" y2="94.5"/>
<line x1="298.6" y1="89.9" x2="300.2" y2="90.0"/>
</g>
<g transform="translate(181.5,-0.5)">
<text x="32.9" y="41.8" font-size="6.7" fill="#f2f2f2" font-weight="bold" stroke="#111" stroke-width="1.1" paint-order="stroke" stroke-linejoin="round">120</text>
<text x="47.4" y="39.3" font-size="6.7" fill="#f2f2f2" font-weight="bold" stroke="#111" stroke-width="1.1" paint-order="stroke" stroke-linejoin="round">105</text>
<text x="62.6" y="37.9" font-size="6.7" fill="#f2f2f2" font-weight="bold" stroke="#111" stroke-width="1.1" paint-order="stroke" stroke-linejoin="round">90</text>
<text x="76.4" y="39.3" font-size="6.7" fill="#f2f2f2" font-weight="bold" stroke="#111" stroke-width="1.1" paint-order="stroke" stroke-linejoin="round">75</text>
<text x="90.9" y="41.8" font-size="6.7" fill="#f2f2f2" font-weight="bold" stroke="#111" stroke-width="1.1" paint-order="stroke" stroke-linejoin="round">60</text>
<text x="20.8" y="46.6" font-size="6.7" fill="#f2f2f2" font-weight="bold" stroke="#111" stroke-width="1.1" paint-order="stroke" stroke-linejoin="round">135</text>
<text x="10.0" y="55.0" font-size="6.7" fill="#f2f2f2" font-weight="bold" stroke="#111" stroke-width="1.1" paint-order="stroke" stroke-linejoin="round">150</text>
<text x="1.5" y="70.3" font-size="6.7" fill="#f2f2f2" font-weight="bold" stroke="#111" stroke-width="1.1" paint-order="stroke" stroke-linejoin="round">165</text>
<text x="7.3" y="86.2" font-size="6.7" fill="#f2f2f2" font-weight="bold" stroke="#111" stroke-width="1.1" paint-order="stroke" stroke-linejoin="round">0</text>
<text x="103.0" y="46.3" font-size="6.7" fill="#f2f2f2" font-weight="bold" stroke="#111" stroke-width="1.1" paint-order="stroke" stroke-linejoin="round">45</text>
<text x="113.7" y="55.0" font-size="6.7" fill="#f2f2f2" font-weight="bold" stroke="#111" stroke-width="1.1" paint-order="stroke" stroke-linejoin="round">30</text>
<text x="122.3" y="69.8" font-size="6.7" fill="#f2f2f2" font-weight="bold" stroke="#111" stroke-width="1.1" paint-order="stroke" stroke-linejoin="round">15</text>
<text x="124.8" y="86.0" font-size="6.7" fill="#f2f2f2" font-weight="bold" stroke="#111" stroke-width="1.1" paint-order="stroke" stroke-linejoin="round">0</text>
<text x="36.7" y="131.7" font-size="6.7" fill="#f2f2f2" font-weight="bold" stroke="#111" stroke-width="1.1" paint-order="stroke" stroke-linejoin="round">60</text>
<text x="51.3" y="133.6" font-size="6.7" fill="#f2f2f2" font-weight="bold" stroke="#111" stroke-width="1.1" paint-order="stroke" stroke-linejoin="round">75</text>
<text x="63.6" y="133.6" font-size="6.7" fill="#f2f2f2" font-weight="bold" stroke="#111" stroke-width="1.1" paint-order="stroke" stroke-linejoin="round">90</text>
<text x="77.2" y="133.6" font-size="6.7" fill="#f2f2f2" font-weight="bold" stroke="#111" stroke-width="1.1" paint-order="stroke" stroke-linejoin="round">105</text>
<text x="90.9" y="130.2" font-size="6.7" fill="#f2f2f2" font-weight="bold" stroke="#111" stroke-width="1.1" paint-order="stroke" stroke-linejoin="round">120</text>
<text x="103.4" y="125.0" font-size="6.7" fill="#f2f2f2" font-weight="bold" stroke="#111" stroke-width="1.1" paint-order="stroke" stroke-linejoin="round">135</text>
<text x="113.5" y="116.6" font-size="6.7" fill="#f2f2f2" font-weight="bold" stroke="#111" stroke-width="1.1" paint-order="stroke" stroke-linejoin="round">150</text>
<text x="126.4" y="102.7" font-size="6.7" fill="#f2f2f2" font-weight="bold" stroke="#111" stroke-width="1.1" paint-order="stroke" stroke-linejoin="round">55</text>
<rect x="13" y="68.5" width="3" height="0.8" fill="#cfcfcf"/>
<rect x="13.5" y="84.4" width="3" height="0.8" fill="#cfcfcf"/>
<text x="117.0" y="93.6" font-size="6.3" fill="#e0e0e0" font-weight="bold" stroke="#111" stroke-width="1.1" paint-order="stroke" stroke-linejoin="round">127</text>
<text x="4.5" y="99.6" font-size="4.6" fill="#d8d8d8" font-weight="bold">15</text>
<text x="71.2" y="48.5" font-size="7" fill="#f0f0f0" font-weight="bold" textLength="29" lengthAdjust="spacingAndGlyphs" stroke="#111" stroke-width="1.1" paint-order="stroke" stroke-linejoin="round">Float. Dia</text>
<text x="106.5" y="48.5" font-size="7" fill="#f0f0f0" font-weight="bold" textLength="26.5" lengthAdjust="spacingAndGlyphs" stroke="#111" stroke-width="1.1" paint-order="stroke" stroke-linejoin="round">9.00[mm]</text>
<text x="89.0" y="57.7" font-size="7" fill="#f0f0f0" font-weight="bold" textLength="11.5" lengthAdjust="spacingAndGlyphs" stroke="#111" stroke-width="1.1" paint-order="stroke" stroke-linejoin="round">BFS</text>
<text x="103.0" y="57.7" font-size="7" fill="#f0f0f0" font-weight="bold" textLength="30" lengthAdjust="spacingAndGlyphs" stroke="#111" stroke-width="1.1" paint-order="stroke" stroke-linejoin="round">6.63[mm]</text>
<text x="0.8" y="104.8" font-size="7" fill="#eeeeee" font-weight="bold" textLength="15.5" lengthAdjust="spacingAndGlyphs" stroke="#111" stroke-width="1.1" paint-order="stroke" stroke-linejoin="round">Pupil</text>
<text x="0.8" y="114.6" font-size="7" fill="#eeeeee" font-weight="bold" textLength="6.2" lengthAdjust="spacingAndGlyphs" stroke="#111" stroke-width="1.1" paint-order="stroke" stroke-linejoin="round">X=</text>
<text x="27.7" y="114.6" font-size="7" fill="#eeeeee" font-weight="bold" text-anchor="end" stroke="#111" stroke-width="1.1" paint-order="stroke" stroke-linejoin="round">-0.29</text>
<text x="0.8" y="124.0" font-size="7" fill="#eeeeee" font-weight="bold" textLength="6.2" lengthAdjust="spacingAndGlyphs" stroke="#111" stroke-width="1.1" paint-order="stroke" stroke-linejoin="round">Y=</text>
<text x="24.5" y="124.0" font-size="7" fill="#eeeeee" font-weight="bold" text-anchor="end" stroke="#111" stroke-width="1.1" paint-order="stroke" stroke-linejoin="round">0.13</text>
<text x="0.8" y="133.8" font-size="7" fill="#eeeeee" font-weight="bold" textLength="6.2" lengthAdjust="spacingAndGlyphs" stroke="#111" stroke-width="1.1" paint-order="stroke" stroke-linejoin="round">D=</text>
<text x="27.7" y="133.8" font-size="7" fill="#eeeeee" font-weight="bold" text-anchor="end" stroke="#111" stroke-width="1.1" paint-order="stroke" stroke-linejoin="round">4.09</text>
<text x="107.0" y="105.5" font-size="7.2" fill="#34d034" font-weight="bold" textLength="20.4" lengthAdjust="spacingAndGlyphs" stroke="#111" stroke-width="1.1" paint-order="stroke" stroke-linejoin="round">Offsets</text>
<text x="107.0" y="114.7" font-size="7.2" fill="#34d034" font-weight="bold" stroke="#111" stroke-width="1.1" paint-order="stroke" stroke-linejoin="round">X=</text>
<text x="133.2" y="114.7" font-size="7.2" fill="#34d034" font-weight="bold" text-anchor="end" stroke="#111" stroke-width="1.1" paint-order="stroke" stroke-linejoin="round">0.12</text>
<text x="107.0" y="124.0" font-size="7.2" fill="#34d034" font-weight="bold" stroke="#111" stroke-width="1.1" paint-order="stroke" stroke-linejoin="round">Y=</text>
<text x="133.2" y="124.0" font-size="7.2" fill="#34d034" font-weight="bold" text-anchor="end" stroke="#111" stroke-width="1.1" paint-order="stroke" stroke-linejoin="round">0.04</text>
<text x="107.0" y="133.2" font-size="7.2" fill="#34d034" font-weight="bold" stroke="#111" stroke-width="1.1" paint-order="stroke" stroke-linejoin="round">Z=</text>
<text x="133.2" y="133.2" font-size="7.2" fill="#34d034" font-weight="bold" text-anchor="end" stroke="#111" stroke-width="1.1" paint-order="stroke" stroke-linejoin="round">0.09</text>
<text x="104.0" y="39.8" font-size="7" fill="#e47c3c" font-weight="bold" textLength="28.3" lengthAdjust="spacingAndGlyphs">MERGED</text>
</g>
</g>
<g clip-path="url(#panel3)">
<mask id="pm3" maskUnits="userSpaceOnUse" x="0" y="151" width="135" height="130.5"><g transform="translate(0,131.5)">
<path d="M99,33 C112,29 130,30 136,33 L137,137 L16,137 C22,131 50,127 78,127 C94,118 98,80 99,33 Z" fill="#5e5e5e" filter="url(#mb5)"/>
<ellipse cx="67.3" cy="84.5" rx="50" ry="50" fill="none" stroke="url(#ringG2)" stroke-width="9" filter="url(#mb2)"/>
<ellipse cx="72" cy="131" rx="42" ry="5" fill="#8a8a8a" filter="url(#mb3)"/>
<ellipse cx="130" cy="28" rx="14" ry="9" fill="#000" filter="url(#mb5)"/>
<ellipse cx="118" cy="38" rx="20" ry="9" fill="#000" filter="url(#mb5)" opacity="0.55"/>
<ellipse cx="6" cy="132" rx="18" ry="7" fill="#000" filter="url(#mb5)"/>
<rect x="-5" y="136.3" width="150" height="20" fill="#000"/>
</g></mask>
<g mask="url(#pm3)"><rect x="0" y="151" width="135" height="130.5" fill="#a0a0a0"/>
<rect x="0" y="151" width="135" height="130.5" filter="url(#noiseW)"/>
<rect x="0" y="151" width="135" height="130.5" filter="url(#noiseB)"/></g>

<g clip-path="url(#disc3)">
<rect x="15" y="165" width="105" height="100" fill="#4a3abc"/>
<ellipse cx="67" cy="215.5" rx="45" ry="45" fill="url(#m3rad)"/>
<ellipse cx="67" cy="242" rx="26" ry="8" fill="#3266de" filter="url(#mb2)"/>
<path d="M34.5,208 C34,194 42,182 58,179.5 C74,178 88,181 94,191 C97,201 96.5,212 92.5,222 C87.5,232 78,238.5 67,238.5 C53,238.5 42,233 37.5,225 C35,219 34.5,214 34.5,208 Z" fill="#38b046" filter="url(#mb1)"/>
<ellipse cx="48" cy="191" rx="9" ry="8" fill="#5cc84c" filter="url(#mb2)"/>
<ellipse cx="73" cy="187" rx="12" ry="6" fill="#56c44c" filter="url(#mb2)"/>
<ellipse cx="39" cy="218" rx="4.5" ry="11" fill="#2a7ab0" filter="url(#mb2)"/>
<ellipse cx="91" cy="210" rx="4" ry="10" fill="#2a70b8" filter="url(#mb2)"/>
<ellipse cx="50" cy="230" rx="8" ry="5" fill="#2a9a60" filter="url(#mb2)"/>
<ellipse cx="67" cy="222.5" rx="17" ry="12" fill="#a8dc40" filter="url(#mb2)"/>
<ellipse cx="67" cy="224" rx="14.5" ry="10" fill="#f0e040" filter="url(#mb15)"/>
<ellipse cx="67.5" cy="225" rx="10" ry="8" fill="#f07820" filter="url(#mb1)"/>
<ellipse cx="68" cy="225.5" rx="6.5" ry="5.5" fill="#e02418" filter="url(#mb1)"/>
</g>
<g fill="#e4e4f4">
<circle cx="109.3" cy="215.5" r="0.55"/>
<circle cx="109.2" cy="218.9" r="0.55"/>
<circle cx="108.8" cy="222.2" r="0.55"/>
<circle cx="108.1" cy="225.5" r="0.55"/>
<circle cx="107.2" cy="228.7" r="0.55"/>
<circle cx="106.0" cy="231.9" r="0.55"/>
<circle cx="104.6" cy="234.9" r="0.55"/>
<circle cx="103.0" cy="237.9" r="0.55"/>
<circle cx="101.1" cy="240.7" r="0.55"/>
<circle cx="99.0" cy="243.3" r="0.55"/>
<circle cx="96.8" cy="245.8" r="0.55"/>
<circle cx="94.3" cy="248.0" r="0.55"/>
<circle cx="91.7" cy="250.1" r="0.55"/>
<circle cx="88.9" cy="252.0" r="0.55"/>
<circle cx="85.9" cy="253.6" r="0.55"/>
<circle cx="82.9" cy="255.0" r="0.55"/>
<circle cx="79.7" cy="256.2" r="0.55"/>
<circle cx="76.5" cy="257.1" r="0.55"/>
<circle cx="73.2" cy="257.8" r="0.55"/>
<circle cx="69.9" cy="258.2" r="0.55"/>
<circle cx="66.5" cy="258.3" r="0.55"/>
<circle cx="63.1" cy="258.2" r="0.55"/>
<circle cx="59.8" cy="257.8" r="0.55"/>
<circle cx="56.5" cy="257.1" r="0.55"/>
<circle cx="53.3" cy="256.2" r="0.55"/>
<circle cx="50.1" cy="255.0" r="0.55"/>
<circle cx="47.1" cy="253.6" r="0.55"/>
<circle cx="44.1" cy="252.0" r="0.55"/>
<circle cx="41.3" cy="250.1" r="0.55"/>
<circle cx="38.7" cy="248.0" r="0.55"/>
<circle cx="38.7" cy="183.0" r="0.55"/>
<circle cx="41.3" cy="180.9" r="0.55"/>
<circle cx="44.1" cy="179.0" r="0.55"/>
<circle cx="47.1" cy="177.4" r="0.55"/>
<circle cx="50.1" cy="176.0" r="0.55"/>
<circle cx="53.3" cy="174.8" r="0.55"/>
<circle cx="56.5" cy="173.9" r="0.55"/>
<circle cx="59.8" cy="173.2" r="0.55"/>
<circle cx="63.1" cy="172.8" r="0.55"/>
<circle cx="66.5" cy="172.7" r="0.55"/>
<circle cx="69.9" cy="172.8" r="0.55"/>
<circle cx="73.2" cy="173.2" r="0.55"/>
<circle cx="76.5" cy="173.9" r="0.55"/>
<circle cx="79.7" cy="174.8" r="0.55"/>
<circle cx="82.9" cy="176.0" r="0.55"/>
<circle cx="85.9" cy="177.4" r="0.55"/>
<circle cx="88.9" cy="179.0" r="0.55"/>
<circle cx="91.7" cy="180.9" r="0.55"/>
<circle cx="94.3" cy="183.0" r="0.55"/>
<circle cx="96.8" cy="185.2" r="0.55"/>
<circle cx="99.0" cy="187.7" r="0.55"/>
<circle cx="101.1" cy="190.3" r="0.55"/>
<circle cx="103.0" cy="193.1" r="0.55"/>
<circle cx="104.6" cy="196.1" r="0.55"/>
<circle cx="106.0" cy="199.1" r="0.55"/>
<circle cx="107.2" cy="202.3" r="0.55"/>
<circle cx="108.1" cy="205.5" r="0.55"/>
<circle cx="108.8" cy="208.8" r="0.55"/>
<circle cx="109.2" cy="212.1" r="0.55"/>
</g>
<g transform="translate(0,131.5)" fill="none" stroke-width="0.8" stroke-dasharray="1.2 2"><line x1="21" y1="112" x2="120" y2="57" stroke="#a03a3a"/><line x1="36" y1="44" x2="60" y2="72" stroke="#2a40a0"/></g><circle cx="64" cy="216.5" r="18.5" fill="none" stroke="#2a4aa0" stroke-width="0.6"/>
<line x1="48.6" y1="187.7" x2="84.0" y2="240.0" stroke="#101010" stroke-width="1.15" stroke-linecap="round"/>
<line x1="48.6" y1="187.7" x2="59.2" y2="203.4" stroke="#b82222" stroke-width="1.6" stroke-linecap="round"/>
<line x1="73.4" y1="224.3" x2="84.0" y2="240.0" stroke="#b82222" stroke-width="1.6" stroke-linecap="round"/>
<line x1="49.9" y1="237.4" x2="90.4" y2="202.0" stroke="#101010" stroke-width="1.15" stroke-linecap="round"/>
<line x1="49.9" y1="237.4" x2="62.0" y2="226.8" stroke="#2626b0" stroke-width="1.6" stroke-linecap="round"/>
<line x1="78.2" y1="212.6" x2="90.4" y2="202.0" stroke="#2626b0" stroke-width="1.6" stroke-linecap="round"/>
<text x="65.6" y="184.7" font-size="6.6" fill="#181818" font-weight="bold" text-anchor="middle" textLength="10.28" lengthAdjust="spacingAndGlyphs" stroke="#e8e8e8" stroke-opacity="0.55" stroke-width="1.3" paint-order="stroke" stroke-linejoin="round">30.2</text>
<text x="44.6" y="194.0" font-size="6.6" fill="#181818" font-weight="bold" text-anchor="middle" textLength="10.28" lengthAdjust="spacingAndGlyphs" stroke="#e8e8e8" stroke-opacity="0.55" stroke-width="1.3" paint-order="stroke" stroke-linejoin="round">40.2</text>
<text x="66.4" y="194.0" font-size="6.6" fill="#181818" font-weight="bold" text-anchor="middle" textLength="10.28" lengthAdjust="spacingAndGlyphs" stroke="#e8e8e8" stroke-opacity="0.55" stroke-width="1.3" paint-order="stroke" stroke-linejoin="round">41.4</text>
<text x="87.8" y="194.5" font-size="6.6" fill="#181818" font-weight="bold" text-anchor="middle" textLength="10.28" lengthAdjust="spacingAndGlyphs" stroke="#e8e8e8" stroke-opacity="0.55" stroke-width="1.3" paint-order="stroke" stroke-linejoin="round">35.9</text>
<text x="49.7" y="200.8" font-size="6.6" fill="#181818" font-weight="bold" text-anchor="middle" textLength="10.28" lengthAdjust="spacingAndGlyphs" stroke="#e8e8e8" stroke-opacity="0.55" stroke-width="1.3" paint-order="stroke" stroke-linejoin="round">39.5</text>
<text x="66.4" y="201.2" font-size="6.6" fill="#181818" font-weight="bold" text-anchor="middle" textLength="10.28" lengthAdjust="spacingAndGlyphs" stroke="#e8e8e8" stroke-opacity="0.55" stroke-width="1.3" paint-order="stroke" stroke-linejoin="round">40.1</text>
<text x="83.0" y="200.8" font-size="6.6" fill="#181818" font-weight="bold" text-anchor="middle" textLength="10.28" lengthAdjust="spacingAndGlyphs" stroke="#e8e8e8" stroke-opacity="0.55" stroke-width="1.3" paint-order="stroke" stroke-linejoin="round">39.4</text>
<text x="55.6" y="206.4" font-size="6.6" fill="#181818" font-weight="bold" text-anchor="middle" textLength="10.28" lengthAdjust="spacingAndGlyphs" stroke="#e8e8e8" stroke-opacity="0.55" stroke-width="1.3" paint-order="stroke" stroke-linejoin="round">40.1</text>
<text x="75.7" y="206.4" font-size="6.6" fill="#181818" font-weight="bold" text-anchor="middle" textLength="10.28" lengthAdjust="spacingAndGlyphs" stroke="#e8e8e8" stroke-opacity="0.55" stroke-width="1.3" paint-order="stroke" stroke-linejoin="round">39.7</text>
<text x="33.5" y="217.6" font-size="6.6" fill="#181818" font-weight="bold" text-anchor="middle" textLength="10.28" lengthAdjust="spacingAndGlyphs" stroke="#e8e8e8" stroke-opacity="0.55" stroke-width="1.3" paint-order="stroke" stroke-linejoin="round">36.2</text>
<text x="42.3" y="217.6" font-size="6.6" fill="#181818" font-weight="bold" text-anchor="middle" textLength="10.28" lengthAdjust="spacingAndGlyphs" stroke="#e8e8e8" stroke-opacity="0.55" stroke-width="1.3" paint-order="stroke" stroke-linejoin="round">38.3</text>
<text x="51.5" y="217.6" font-size="6.6" fill="#181818" font-weight="bold" text-anchor="middle" textLength="10.28" lengthAdjust="spacingAndGlyphs" stroke="#e8e8e8" stroke-opacity="0.55" stroke-width="1.3" paint-order="stroke" stroke-linejoin="round">39.8</text>
<text x="65.2" y="217.6" font-size="6.6" fill="#181818" font-weight="bold" text-anchor="middle" textLength="10.28" lengthAdjust="spacingAndGlyphs" stroke="#e8e8e8" stroke-opacity="0.55" stroke-width="1.3" paint-order="stroke" stroke-linejoin="round">43.1</text>
<text x="79.3" y="217.6" font-size="6.6" fill="#181818" font-weight="bold" text-anchor="middle" textLength="10.28" lengthAdjust="spacingAndGlyphs" stroke="#e8e8e8" stroke-opacity="0.55" stroke-width="1.3" paint-order="stroke" stroke-linejoin="round">40.3</text>
<text x="87.5" y="217.6" font-size="6.6" fill="#181818" font-weight="bold" text-anchor="middle" textLength="10.28" lengthAdjust="spacingAndGlyphs" stroke="#e8e8e8" stroke-opacity="0.55" stroke-width="1.3" paint-order="stroke" stroke-linejoin="round">38.8</text>
<text x="98.9" y="217.6" font-size="6.6" fill="#181818" font-weight="bold" text-anchor="middle" textLength="10.28" lengthAdjust="spacingAndGlyphs" stroke="#e8e8e8" stroke-opacity="0.55" stroke-width="1.3" paint-order="stroke" stroke-linejoin="round">32.1</text>
<text x="59.7" y="226.5" font-size="6.6" fill="#181818" font-weight="bold" text-anchor="middle" textLength="10.28" lengthAdjust="spacingAndGlyphs" stroke="#e8e8e8" stroke-opacity="0.55" stroke-width="1.3" paint-order="stroke" stroke-linejoin="round">45.0</text>
<text x="75.6" y="226.5" font-size="6.6" fill="#181818" font-weight="bold" text-anchor="middle" textLength="10.28" lengthAdjust="spacingAndGlyphs" stroke="#e8e8e8" stroke-opacity="0.55" stroke-width="1.3" paint-order="stroke" stroke-linejoin="round">45.7</text>
<text x="66.4" y="231.6" font-size="6.6" fill="#181818" font-weight="bold" text-anchor="middle" textLength="10.28" lengthAdjust="spacingAndGlyphs" stroke="#e8e8e8" stroke-opacity="0.55" stroke-width="1.3" paint-order="stroke" stroke-linejoin="round">48.8</text>
<text x="50.9" y="233.8" font-size="6.6" fill="#181818" font-weight="bold" text-anchor="middle" textLength="10.28" lengthAdjust="spacingAndGlyphs" stroke="#e8e8e8" stroke-opacity="0.55" stroke-width="1.3" paint-order="stroke" stroke-linejoin="round">40.7</text>
<text x="82.6" y="233.8" font-size="6.6" fill="#181818" font-weight="bold" text-anchor="middle" textLength="10.28" lengthAdjust="spacingAndGlyphs" stroke="#e8e8e8" stroke-opacity="0.55" stroke-width="1.3" paint-order="stroke" stroke-linejoin="round">38.1</text>
<text x="45.2" y="241.2" font-size="6.6" fill="#181818" font-weight="bold" text-anchor="middle" textLength="10.28" lengthAdjust="spacingAndGlyphs" stroke="#e8e8e8" stroke-opacity="0.55" stroke-width="1.3" paint-order="stroke" stroke-linejoin="round">37.4</text>
<text x="66.4" y="241.2" font-size="6.6" fill="#181818" font-weight="bold" text-anchor="middle" textLength="10.28" lengthAdjust="spacingAndGlyphs" stroke="#e8e8e8" stroke-opacity="0.55" stroke-width="1.3" paint-order="stroke" stroke-linejoin="round">38.4</text>
<text x="88.2" y="241.2" font-size="6.6" fill="#181818" font-weight="bold" text-anchor="middle" textLength="10.28" lengthAdjust="spacingAndGlyphs" stroke="#e8e8e8" stroke-opacity="0.55" stroke-width="1.3" paint-order="stroke" stroke-linejoin="round">32.9</text>
<text x="66.7" y="250.8" font-size="6.6" fill="#181818" font-weight="bold" text-anchor="middle" textLength="10.28" lengthAdjust="spacingAndGlyphs" stroke="#e8e8e8" stroke-opacity="0.55" stroke-width="1.3" paint-order="stroke" stroke-linejoin="round">36.0</text>
<g clip-path="url(#out3)" stroke="#c8c8c8" stroke-width="0.9">
<line x1="117.3" y1="217.5" x2="118.9" y2="217.5"/>
<line x1="117.1" y1="213.1" x2="118.7" y2="213.0"/>
<line x1="116.5" y1="208.8" x2="118.1" y2="208.5"/>
<line x1="115.6" y1="204.6" x2="117.1" y2="204.1"/>
<line x1="114.3" y1="200.4" x2="115.8" y2="199.9"/>
<line x1="112.6" y1="196.4" x2="114.1" y2="195.7"/>
<line x1="110.6" y1="192.5" x2="112.0" y2="191.7"/>
<line x1="108.3" y1="188.8" x2="109.6" y2="187.9"/>
<line x1="105.6" y1="185.4" x2="106.8" y2="184.3"/>
<line x1="102.7" y1="182.1" x2="103.8" y2="181.0"/>
<line x1="99.4" y1="179.2" x2="100.5" y2="178.0"/>
<line x1="96.0" y1="176.5" x2="96.9" y2="175.2"/>
<line x1="92.3" y1="174.2" x2="93.1" y2="172.8"/>
<line x1="88.4" y1="172.2" x2="89.1" y2="170.7"/>
<line x1="84.4" y1="170.5" x2="84.9" y2="169.0"/>
<line x1="80.2" y1="169.2" x2="80.7" y2="167.7"/>
<line x1="76.0" y1="168.3" x2="76.3" y2="166.7"/>
<line x1="71.7" y1="167.7" x2="71.8" y2="166.1"/>
<line x1="67.3" y1="167.5" x2="67.3" y2="165.9"/>
<line x1="62.9" y1="167.7" x2="62.8" y2="166.1"/>
<line x1="58.6" y1="168.3" x2="58.3" y2="166.7"/>
<line x1="54.4" y1="169.2" x2="53.9" y2="167.7"/>
<line x1="50.2" y1="170.5" x2="49.7" y2="169.0"/>
<line x1="46.2" y1="172.2" x2="45.5" y2="170.7"/>
<line x1="42.3" y1="174.2" x2="41.5" y2="172.8"/>
<line x1="38.6" y1="176.5" x2="37.7" y2="175.2"/>
<line x1="35.2" y1="179.2" x2="34.1" y2="178.0"/>
<line x1="31.9" y1="182.1" x2="30.8" y2="181.0"/>
<line x1="29.0" y1="185.4" x2="27.8" y2="184.3"/>
<line x1="26.3" y1="188.8" x2="25.0" y2="187.9"/>
<line x1="24.0" y1="192.5" x2="22.6" y2="191.7"/>
<line x1="22.0" y1="196.4" x2="20.5" y2="195.7"/>
<line x1="20.3" y1="200.4" x2="18.8" y2="199.9"/>
<line x1="19.0" y1="204.6" x2="17.5" y2="204.1"/>
<line x1="18.1" y1="208.8" x2="16.5" y2="208.5"/>
<line x1="17.5" y1="213.1" x2="15.9" y2="213.0"/>
<line x1="17.3" y1="217.5" x2="15.7" y2="217.5"/>
<line x1="17.5" y1="221.9" x2="15.9" y2="222.0"/>
<line x1="18.1" y1="226.2" x2="16.5" y2="226.5"/>
<line x1="19.0" y1="230.4" x2="17.5" y2="230.9"/>
<line x1="20.3" y1="234.6" x2="18.8" y2="235.1"/>
<line x1="22.0" y1="238.6" x2="20.5" y2="239.3"/>
<line x1="24.0" y1="242.5" x2="22.6" y2="243.3"/>
<line x1="26.3" y1="246.2" x2="25.0" y2="247.1"/>
<line x1="29.0" y1="249.6" x2="27.8" y2="250.7"/>
<line x1="31.9" y1="252.9" x2="30.8" y2="254.0"/>
<line x1="35.2" y1="255.8" x2="34.1" y2="257.0"/>
<line x1="38.6" y1="258.5" x2="37.7" y2="259.8"/>
<line x1="42.3" y1="260.8" x2="41.5" y2="262.2"/>
<line x1="46.2" y1="262.8" x2="45.5" y2="264.3"/>
<line x1="50.2" y1="264.5" x2="49.7" y2="266.0"/>
<line x1="54.4" y1="265.8" x2="53.9" y2="267.3"/>
<line x1="58.6" y1="266.7" x2="58.3" y2="268.3"/>
<line x1="62.9" y1="267.3" x2="62.8" y2="268.9"/>
<line x1="67.3" y1="267.5" x2="67.3" y2="269.1"/>
<line x1="71.7" y1="267.3" x2="71.8" y2="268.9"/>
<line x1="76.0" y1="266.7" x2="76.3" y2="268.3"/>
<line x1="80.2" y1="265.8" x2="80.7" y2="267.3"/>
<line x1="84.4" y1="264.5" x2="84.9" y2="266.0"/>
<line x1="88.4" y1="262.8" x2="89.1" y2="264.3"/>
<line x1="92.3" y1="260.8" x2="93.1" y2="262.2"/>
<line x1="96.0" y1="258.5" x2="96.9" y2="259.8"/>
<line x1="99.4" y1="255.8" x2="100.5" y2="257.0"/>
<line x1="102.7" y1="252.9" x2="103.8" y2="254.0"/>
<line x1="105.6" y1="249.6" x2="106.8" y2="250.7"/>
<line x1="108.3" y1="246.2" x2="109.6" y2="247.1"/>
<line x1="110.6" y1="242.5" x2="112.0" y2="243.3"/>
<line x1="112.6" y1="238.6" x2="114.1" y2="239.3"/>
<line x1="114.3" y1="234.6" x2="115.8" y2="235.1"/>
<line x1="115.6" y1="230.4" x2="117.1" y2="230.9"/>
<line x1="116.5" y1="226.2" x2="118.1" y2="226.5"/>
<line x1="117.1" y1="221.9" x2="118.7" y2="222.0"/>
</g>
<g transform="translate(0,131.5)">
<text x="32.9" y="41.8" font-size="6.7" fill="#f2f2f2" font-weight="bold" stroke="#111" stroke-width="1.1" paint-order="stroke" stroke-linejoin="round">120</text>
<text x="47.4" y="39.3" font-size="6.7" fill="#f2f2f2" font-weight="bold" stroke="#111" stroke-width="1.1" paint-order="stroke" stroke-linejoin="round">105</text>
<text x="62.6" y="37.9" font-size="6.7" fill="#f2f2f2" font-weight="bold" stroke="#111" stroke-width="1.1" paint-order="stroke" stroke-linejoin="round">90</text>
<text x="76.4" y="39.3" font-size="6.7" fill="#f2f2f2" font-weight="bold" stroke="#111" stroke-width="1.1" paint-order="stroke" stroke-linejoin="round">75</text>
<text x="90.9" y="41.8" font-size="6.7" fill="#f2f2f2" font-weight="bold" stroke="#111" stroke-width="1.1" paint-order="stroke" stroke-linejoin="round">60</text>
<text x="20.8" y="46.6" font-size="6.7" fill="#f2f2f2" font-weight="bold" stroke="#111" stroke-width="1.1" paint-order="stroke" stroke-linejoin="round">135</text>
<text x="10.0" y="55.0" font-size="6.7" fill="#f2f2f2" font-weight="bold" stroke="#111" stroke-width="1.1" paint-order="stroke" stroke-linejoin="round">150</text>
<text x="1.5" y="70.3" font-size="6.7" fill="#f2f2f2" font-weight="bold" stroke="#111" stroke-width="1.1" paint-order="stroke" stroke-linejoin="round">165</text>
<text x="7.3" y="86.2" font-size="6.7" fill="#f2f2f2" font-weight="bold" stroke="#111" stroke-width="1.1" paint-order="stroke" stroke-linejoin="round">0</text>
<text x="103.0" y="46.3" font-size="6.7" fill="#f2f2f2" font-weight="bold" stroke="#111" stroke-width="1.1" paint-order="stroke" stroke-linejoin="round">45</text>
<text x="113.7" y="55.0" font-size="6.7" fill="#f2f2f2" font-weight="bold" stroke="#111" stroke-width="1.1" paint-order="stroke" stroke-linejoin="round">30</text>
<text x="122.3" y="69.8" font-size="6.7" fill="#f2f2f2" font-weight="bold" stroke="#111" stroke-width="1.1" paint-order="stroke" stroke-linejoin="round">15</text>
<text x="124.8" y="86.0" font-size="6.7" fill="#f2f2f2" font-weight="bold" stroke="#111" stroke-width="1.1" paint-order="stroke" stroke-linejoin="round">0</text>
<text x="36.7" y="131.7" font-size="6.7" fill="#f2f2f2" font-weight="bold" stroke="#111" stroke-width="1.1" paint-order="stroke" stroke-linejoin="round">60</text>
<text x="51.3" y="133.6" font-size="6.7" fill="#f2f2f2" font-weight="bold" stroke="#111" stroke-width="1.1" paint-order="stroke" stroke-linejoin="round">75</text>
<text x="63.6" y="133.6" font-size="6.7" fill="#f2f2f2" font-weight="bold" stroke="#111" stroke-width="1.1" paint-order="stroke" stroke-linejoin="round">90</text>
<text x="77.2" y="133.6" font-size="6.7" fill="#f2f2f2" font-weight="bold" stroke="#111" stroke-width="1.1" paint-order="stroke" stroke-linejoin="round">105</text>
<text x="90.9" y="130.2" font-size="6.7" fill="#f2f2f2" font-weight="bold" stroke="#111" stroke-width="1.1" paint-order="stroke" stroke-linejoin="round">120</text>
<text x="103.4" y="125.0" font-size="6.7" fill="#f2f2f2" font-weight="bold" stroke="#111" stroke-width="1.1" paint-order="stroke" stroke-linejoin="round">135</text>
<text x="113.5" y="116.6" font-size="6.7" fill="#f2f2f2" font-weight="bold" stroke="#111" stroke-width="1.1" paint-order="stroke" stroke-linejoin="round">150</text>
<text x="126.4" y="102.7" font-size="6.7" fill="#f2f2f2" font-weight="bold" stroke="#111" stroke-width="1.1" paint-order="stroke" stroke-linejoin="round">55</text>
<rect x="13" y="68.5" width="3" height="0.8" fill="#cfcfcf"/>
<rect x="13.5" y="84.4" width="3" height="0.8" fill="#cfcfcf"/>
<text x="117.0" y="93.6" font-size="6.3" fill="#e0e0e0" font-weight="bold" stroke="#111" stroke-width="1.1" paint-order="stroke" stroke-linejoin="round">127</text>
<text x="4.5" y="99.6" font-size="4.6" fill="#d8d8d8" font-weight="bold">15</text>
<text x="0.8" y="104.8" font-size="7" fill="#eeeeee" font-weight="bold" textLength="15.5" lengthAdjust="spacingAndGlyphs" stroke="#111" stroke-width="1.1" paint-order="stroke" stroke-linejoin="round">Pupil</text>
<text x="0.8" y="114.6" font-size="7" fill="#eeeeee" font-weight="bold" textLength="6.2" lengthAdjust="spacingAndGlyphs" stroke="#111" stroke-width="1.1" paint-order="stroke" stroke-linejoin="round">X=</text>
<text x="27.7" y="114.6" font-size="7" fill="#eeeeee" font-weight="bold" text-anchor="end" stroke="#111" stroke-width="1.1" paint-order="stroke" stroke-linejoin="round">-0.29</text>
<text x="0.8" y="124.0" font-size="7" fill="#eeeeee" font-weight="bold" textLength="6.2" lengthAdjust="spacingAndGlyphs" stroke="#111" stroke-width="1.1" paint-order="stroke" stroke-linejoin="round">Y=</text>
<text x="24.5" y="124.0" font-size="7" fill="#eeeeee" font-weight="bold" text-anchor="end" stroke="#111" stroke-width="1.1" paint-order="stroke" stroke-linejoin="round">0.13</text>
<text x="0.8" y="133.8" font-size="7" fill="#eeeeee" font-weight="bold" textLength="6.2" lengthAdjust="spacingAndGlyphs" stroke="#111" stroke-width="1.1" paint-order="stroke" stroke-linejoin="round">D=</text>
<text x="27.7" y="133.8" font-size="7" fill="#eeeeee" font-weight="bold" text-anchor="end" stroke="#111" stroke-width="1.1" paint-order="stroke" stroke-linejoin="round">4.09</text>
<text x="107.0" y="105.5" font-size="7.2" fill="#34d034" font-weight="bold" textLength="20.4" lengthAdjust="spacingAndGlyphs" stroke="#111" stroke-width="1.1" paint-order="stroke" stroke-linejoin="round">Offsets</text>
<text x="107.0" y="114.7" font-size="7.2" fill="#34d034" font-weight="bold" stroke="#111" stroke-width="1.1" paint-order="stroke" stroke-linejoin="round">X=</text>
<text x="133.2" y="114.7" font-size="7.2" fill="#34d034" font-weight="bold" text-anchor="end" stroke="#111" stroke-width="1.1" paint-order="stroke" stroke-linejoin="round">0.12</text>
<text x="107.0" y="124.0" font-size="7.2" fill="#34d034" font-weight="bold" stroke="#111" stroke-width="1.1" paint-order="stroke" stroke-linejoin="round">Y=</text>
<text x="133.2" y="124.0" font-size="7.2" fill="#34d034" font-weight="bold" text-anchor="end" stroke="#111" stroke-width="1.1" paint-order="stroke" stroke-linejoin="round">0.04</text>
<text x="107.0" y="133.2" font-size="7.2" fill="#34d034" font-weight="bold" stroke="#111" stroke-width="1.1" paint-order="stroke" stroke-linejoin="round">Z=</text>
<text x="133.2" y="133.2" font-size="7.2" fill="#34d034" font-weight="bold" text-anchor="end" stroke="#111" stroke-width="1.1" paint-order="stroke" stroke-linejoin="round">0.09</text>
<text x="104.0" y="39.8" font-size="7" fill="#e47c3c" font-weight="bold" textLength="28.3" lengthAdjust="spacingAndGlyphs">MERGED</text>
</g>
</g>
<g clip-path="url(#panel4)">
<mask id="pm4" maskUnits="userSpaceOnUse" x="180.4" y="151" width="136.6" height="130.5"><g transform="translate(181.5,131.5)">
<path d="M99,33 C112,29 130,30 136,33 L137,137 L16,137 C22,131 50,127 78,127 C94,118 98,80 99,33 Z" fill="#5e5e5e" filter="url(#mb5)"/>
<ellipse cx="67.3" cy="84.5" rx="50" ry="50" fill="none" stroke="url(#ringG2)" stroke-width="9" filter="url(#mb2)"/>
<ellipse cx="72" cy="131" rx="42" ry="5" fill="#8a8a8a" filter="url(#mb3)"/>
<ellipse cx="130" cy="28" rx="14" ry="9" fill="#000" filter="url(#mb5)"/>
<ellipse cx="118" cy="38" rx="20" ry="9" fill="#000" filter="url(#mb5)" opacity="0.55"/>
<ellipse cx="6" cy="132" rx="18" ry="7" fill="#000" filter="url(#mb5)"/>
<rect x="-5" y="136.3" width="150" height="20" fill="#000"/>
</g></mask>
<g mask="url(#pm4)"><rect x="180.4" y="151" width="136.6" height="130.5" fill="#a0a0a0"/>
<rect x="180.4" y="151" width="136.6" height="130.5" filter="url(#noiseW)"/>
<rect x="180.4" y="151" width="136.6" height="130.5" filter="url(#noiseB)"/></g>

<g clip-path="url(#disc4)">
<rect x="200" y="168" width="95" height="95" fill="#3a38c0"/>
<ellipse cx="218" cy="222" rx="9" ry="22" fill="#3050d0" filter="url(#mb2)"/>
<ellipse cx="247" cy="216.2" rx="42" ry="42.7" fill="none" stroke="url(#rimG)" stroke-width="6" filter="url(#mb06)"/>
<path d="M222,186 C230,180.5 265,179.5 275,186 C276.5,200 273.5,222 266,236 C258,243 242,243.5 234,238.5 C228,228 225,212 222,196 Z" fill="#34b046" filter="url(#mb1)"/>
<ellipse cx="245" cy="189" rx="20" ry="6" fill="#44c050" filter="url(#mb2)"/>
<ellipse cx="228" cy="224" rx="4" ry="12" fill="#2a70b8" filter="url(#mb2)"/>
<ellipse cx="229" cy="204" rx="4" ry="7" fill="#26a080" filter="url(#mb2)"/>
<ellipse cx="249.5" cy="220" rx="16" ry="14" fill="#70cc50" filter="url(#mb2)"/>
<ellipse cx="249.5" cy="222" rx="8.5" ry="7.5" fill="#e2e040" filter="url(#mb15)"/>
<ellipse cx="251" cy="223" rx="4.5" ry="4.5" fill="#f09020" filter="url(#mb1)"/>
<ellipse cx="251" cy="223" rx="2.5" ry="2.5" fill="#e85020" filter="url(#mb1)"/>
</g>
<g fill="#e4e4f4">
<circle cx="287.3" cy="216.7" r="0.55"/>
<circle cx="287.2" cy="219.9" r="0.55"/>
<circle cx="286.8" cy="223.0" r="0.55"/>
<circle cx="286.2" cy="226.1" r="0.55"/>
<circle cx="285.3" cy="229.2" r="0.55"/>
<circle cx="284.2" cy="232.1" r="0.55"/>
<circle cx="282.9" cy="235.0" r="0.55"/>
<circle cx="281.4" cy="237.8" r="0.55"/>
<circle cx="279.6" cy="240.4" r="0.55"/>
<circle cx="277.6" cy="242.9" r="0.55"/>
<circle cx="275.5" cy="245.2" r="0.55"/>
<circle cx="273.2" cy="247.3" r="0.55"/>
<circle cx="270.7" cy="249.3" r="0.55"/>
<circle cx="268.1" cy="251.1" r="0.55"/>
<circle cx="265.3" cy="252.6" r="0.55"/>
<circle cx="262.4" cy="253.9" r="0.55"/>
<circle cx="259.5" cy="255.0" r="0.55"/>
<circle cx="256.4" cy="255.9" r="0.55"/>
<circle cx="253.3" cy="256.5" r="0.55"/>
<circle cx="250.2" cy="256.9" r="0.55"/>
<circle cx="247.0" cy="257.0" r="0.55"/>
<circle cx="243.8" cy="256.9" r="0.55"/>
<circle cx="240.7" cy="256.5" r="0.55"/>
<circle cx="237.6" cy="255.9" r="0.55"/>
<circle cx="234.5" cy="255.0" r="0.55"/>
<circle cx="231.6" cy="253.9" r="0.55"/>
<circle cx="228.7" cy="252.6" r="0.55"/>
<circle cx="225.9" cy="251.1" r="0.55"/>
<circle cx="223.3" cy="249.3" r="0.55"/>
<circle cx="220.8" cy="247.3" r="0.55"/>
<circle cx="220.8" cy="186.1" r="0.55"/>
<circle cx="223.3" cy="184.1" r="0.55"/>
<circle cx="225.9" cy="182.3" r="0.55"/>
<circle cx="228.7" cy="180.8" r="0.55"/>
<circle cx="231.6" cy="179.5" r="0.55"/>
<circle cx="234.5" cy="178.4" r="0.55"/>
<circle cx="237.6" cy="177.5" r="0.55"/>
<circle cx="240.7" cy="176.9" r="0.55"/>
<circle cx="243.8" cy="176.5" r="0.55"/>
<circle cx="247.0" cy="176.4" r="0.55"/>
<circle cx="250.2" cy="176.5" r="0.55"/>
<circle cx="253.3" cy="176.9" r="0.55"/>
<circle cx="256.4" cy="177.5" r="0.55"/>
<circle cx="259.5" cy="178.4" r="0.55"/>
<circle cx="262.4" cy="179.5" r="0.55"/>
<circle cx="265.3" cy="180.8" r="0.55"/>
<circle cx="268.1" cy="182.3" r="0.55"/>
<circle cx="270.7" cy="184.1" r="0.55"/>
<circle cx="273.2" cy="186.1" r="0.55"/>
<circle cx="275.5" cy="188.2" r="0.55"/>
<circle cx="277.6" cy="190.5" r="0.55"/>
<circle cx="279.6" cy="193.0" r="0.55"/>
<circle cx="281.4" cy="195.6" r="0.55"/>
<circle cx="282.9" cy="198.4" r="0.55"/>
<circle cx="284.2" cy="201.3" r="0.55"/>
<circle cx="285.3" cy="204.2" r="0.55"/>
<circle cx="286.2" cy="207.3" r="0.55"/>
<circle cx="286.8" cy="210.4" r="0.55"/>
<circle cx="287.2" cy="213.5" r="0.55"/>
</g>
<g transform="translate(181.5,131.5)" fill="none" stroke-width="0.8" stroke-dasharray="1.2 2"><line x1="21" y1="112" x2="120" y2="57" stroke="#a03a3a"/><line x1="36" y1="44" x2="60" y2="72" stroke="#2a40a0"/></g><circle cx="245.5" cy="216.5" r="18.5" fill="none" stroke="#2a4aa0" stroke-width="0.6"/>
<line x1="233.8" y1="193.0" x2="264.0" y2="240.0" stroke="#101010" stroke-width="1.15" stroke-linecap="round"/>
<line x1="233.8" y1="193.0" x2="242.9" y2="207.1" stroke="#b82222" stroke-width="1.6" stroke-linecap="round"/>
<line x1="254.9" y1="225.9" x2="264.0" y2="240.0" stroke="#b82222" stroke-width="1.6" stroke-linecap="round"/>
<line x1="229.9" y1="229.6" x2="269.0" y2="202.0" stroke="#101010" stroke-width="1.15" stroke-linecap="round"/>
<line x1="229.9" y1="229.6" x2="241.6" y2="221.3" stroke="#2626b0" stroke-width="1.6" stroke-linecap="round"/>
<line x1="257.3" y1="210.3" x2="269.0" y2="202.0" stroke="#2626b0" stroke-width="1.6" stroke-linecap="round"/>
<text x="248.5" y="184.7" font-size="6.6" fill="#181818" font-weight="bold" text-anchor="middle" textLength="10.28" lengthAdjust="spacingAndGlyphs" stroke="#e8e8e8" stroke-opacity="0.55" stroke-width="1.3" paint-order="stroke" stroke-linejoin="round">30.0</text>
<text x="226.5" y="194.0" font-size="6.6" fill="#181818" font-weight="bold" text-anchor="middle" textLength="10.28" lengthAdjust="spacingAndGlyphs" stroke="#e8e8e8" stroke-opacity="0.55" stroke-width="1.3" paint-order="stroke" stroke-linejoin="round">40.1</text>
<text x="248.5" y="194.0" font-size="6.6" fill="#181818" font-weight="bold" text-anchor="middle" textLength="10.28" lengthAdjust="spacingAndGlyphs" stroke="#e8e8e8" stroke-opacity="0.55" stroke-width="1.3" paint-order="stroke" stroke-linejoin="round">40.4</text>
<text x="269.5" y="194.5" font-size="6.6" fill="#181818" font-weight="bold" text-anchor="middle" textLength="10.28" lengthAdjust="spacingAndGlyphs" stroke="#e8e8e8" stroke-opacity="0.55" stroke-width="1.3" paint-order="stroke" stroke-linejoin="round">35.4</text>
<text x="231.5" y="200.8" font-size="6.6" fill="#181818" font-weight="bold" text-anchor="middle" textLength="10.28" lengthAdjust="spacingAndGlyphs" stroke="#e8e8e8" stroke-opacity="0.55" stroke-width="1.3" paint-order="stroke" stroke-linejoin="round">39.9</text>
<text x="248.5" y="201.2" font-size="6.6" fill="#181818" font-weight="bold" text-anchor="middle" textLength="10.28" lengthAdjust="spacingAndGlyphs" stroke="#e8e8e8" stroke-opacity="0.55" stroke-width="1.3" paint-order="stroke" stroke-linejoin="round">40.4</text>
<text x="265.0" y="200.8" font-size="6.6" fill="#181818" font-weight="bold" text-anchor="middle" textLength="10.28" lengthAdjust="spacingAndGlyphs" stroke="#e8e8e8" stroke-opacity="0.55" stroke-width="1.3" paint-order="stroke" stroke-linejoin="round">39.4</text>
<text x="237.5" y="206.4" font-size="6.6" fill="#181818" font-weight="bold" text-anchor="middle" textLength="10.28" lengthAdjust="spacingAndGlyphs" stroke="#e8e8e8" stroke-opacity="0.55" stroke-width="1.3" paint-order="stroke" stroke-linejoin="round">39.6</text>
<text x="257.5" y="206.4" font-size="6.6" fill="#181818" font-weight="bold" text-anchor="middle" textLength="10.28" lengthAdjust="spacingAndGlyphs" stroke="#e8e8e8" stroke-opacity="0.55" stroke-width="1.3" paint-order="stroke" stroke-linejoin="round">39.6</text>
<text x="215.5" y="217.6" font-size="6.6" fill="#181818" font-weight="bold" text-anchor="middle" textLength="10.28" lengthAdjust="spacingAndGlyphs" stroke="#e8e8e8" stroke-opacity="0.55" stroke-width="1.3" paint-order="stroke" stroke-linejoin="round">35.8</text>
<text x="224.5" y="217.6" font-size="6.6" fill="#181818" font-weight="bold" text-anchor="middle" textLength="10.28" lengthAdjust="spacingAndGlyphs" stroke="#e8e8e8" stroke-opacity="0.55" stroke-width="1.3" paint-order="stroke" stroke-linejoin="round">37.1</text>
<text x="233.5" y="217.6" font-size="6.6" fill="#181818" font-weight="bold" text-anchor="middle" textLength="10.28" lengthAdjust="spacingAndGlyphs" stroke="#e8e8e8" stroke-opacity="0.55" stroke-width="1.3" paint-order="stroke" stroke-linejoin="round">31.1</text>
<text x="247.5" y="217.6" font-size="6.6" fill="#181818" font-weight="bold" text-anchor="middle" textLength="10.28" lengthAdjust="spacingAndGlyphs" stroke="#e8e8e8" stroke-opacity="0.55" stroke-width="1.3" paint-order="stroke" stroke-linejoin="round">41.2</text>
<text x="261.3" y="217.6" font-size="6.6" fill="#181818" font-weight="bold" text-anchor="middle" textLength="10.28" lengthAdjust="spacingAndGlyphs" stroke="#e8e8e8" stroke-opacity="0.55" stroke-width="1.3" paint-order="stroke" stroke-linejoin="round">40.3</text>
<text x="269.5" y="217.6" font-size="6.6" fill="#181818" font-weight="bold" text-anchor="middle" textLength="10.28" lengthAdjust="spacingAndGlyphs" stroke="#e8e8e8" stroke-opacity="0.55" stroke-width="1.3" paint-order="stroke" stroke-linejoin="round">36.6</text>
<text x="281.0" y="217.6" font-size="6.6" fill="#181818" font-weight="bold" text-anchor="middle" textLength="10.28" lengthAdjust="spacingAndGlyphs" stroke="#e8e8e8" stroke-opacity="0.55" stroke-width="1.3" paint-order="stroke" stroke-linejoin="round">37.1</text>
<text x="241.5" y="226.5" font-size="6.6" fill="#181818" font-weight="bold" text-anchor="middle" textLength="10.28" lengthAdjust="spacingAndGlyphs" stroke="#e8e8e8" stroke-opacity="0.55" stroke-width="1.3" paint-order="stroke" stroke-linejoin="round">43.9</text>
<text x="257.5" y="226.5" font-size="6.6" fill="#181818" font-weight="bold" text-anchor="middle" textLength="10.28" lengthAdjust="spacingAndGlyphs" stroke="#e8e8e8" stroke-opacity="0.55" stroke-width="1.3" paint-order="stroke" stroke-linejoin="round">41.5</text>
<text x="248.5" y="231.6" font-size="6.6" fill="#181818" font-weight="bold" text-anchor="middle" textLength="10.28" lengthAdjust="spacingAndGlyphs" stroke="#e8e8e8" stroke-opacity="0.55" stroke-width="1.3" paint-order="stroke" stroke-linejoin="round">43.8</text>
<text x="233.0" y="233.8" font-size="6.6" fill="#181818" font-weight="bold" text-anchor="middle" textLength="10.28" lengthAdjust="spacingAndGlyphs" stroke="#e8e8e8" stroke-opacity="0.55" stroke-width="1.3" paint-order="stroke" stroke-linejoin="round">39.5</text>
<text x="264.5" y="233.8" font-size="6.6" fill="#181818" font-weight="bold" text-anchor="middle" textLength="10.28" lengthAdjust="spacingAndGlyphs" stroke="#e8e8e8" stroke-opacity="0.55" stroke-width="1.3" paint-order="stroke" stroke-linejoin="round">37.8</text>
<text x="227.0" y="241.2" font-size="6.6" fill="#181818" font-weight="bold" text-anchor="middle" textLength="10.28" lengthAdjust="spacingAndGlyphs" stroke="#e8e8e8" stroke-opacity="0.55" stroke-width="1.3" paint-order="stroke" stroke-linejoin="round">37.6</text>
<text x="248.5" y="241.2" font-size="6.6" fill="#181818" font-weight="bold" text-anchor="middle" textLength="10.28" lengthAdjust="spacingAndGlyphs" stroke="#e8e8e8" stroke-opacity="0.55" stroke-width="1.3" paint-order="stroke" stroke-linejoin="round">37.9</text>
<text x="270.0" y="241.2" font-size="6.6" fill="#181818" font-weight="bold" text-anchor="middle" textLength="10.28" lengthAdjust="spacingAndGlyphs" stroke="#e8e8e8" stroke-opacity="0.55" stroke-width="1.3" paint-order="stroke" stroke-linejoin="round">37.8</text>
<g clip-path="url(#out4)" stroke="#c8c8c8" stroke-width="0.9">
<line x1="298.8" y1="217.5" x2="300.4" y2="217.5"/>
<line x1="298.6" y1="213.1" x2="300.2" y2="213.0"/>
<line x1="298.0" y1="208.8" x2="299.6" y2="208.5"/>
<line x1="297.1" y1="204.6" x2="298.6" y2="204.1"/>
<line x1="295.8" y1="200.4" x2="297.3" y2="199.9"/>
<line x1="294.1" y1="196.4" x2="295.6" y2="195.7"/>
<line x1="292.1" y1="192.5" x2="293.5" y2="191.7"/>
<line x1="289.8" y1="188.8" x2="291.1" y2="187.9"/>
<line x1="287.1" y1="185.4" x2="288.3" y2="184.3"/>
<line x1="284.2" y1="182.1" x2="285.3" y2="181.0"/>
<line x1="280.9" y1="179.2" x2="282.0" y2="178.0"/>
<line x1="277.5" y1="176.5" x2="278.4" y2="175.2"/>
<line x1="273.8" y1="174.2" x2="274.6" y2="172.8"/>
<line x1="269.9" y1="172.2" x2="270.6" y2="170.7"/>
<line x1="265.9" y1="170.5" x2="266.4" y2="169.0"/>
<line x1="261.7" y1="169.2" x2="262.2" y2="167.7"/>
<line x1="257.5" y1="168.3" x2="257.8" y2="166.7"/>
<line x1="253.2" y1="167.7" x2="253.3" y2="166.1"/>
<line x1="248.8" y1="167.5" x2="248.8" y2="165.9"/>
<line x1="244.4" y1="167.7" x2="244.3" y2="166.1"/>
<line x1="240.1" y1="168.3" x2="239.8" y2="166.7"/>
<line x1="235.9" y1="169.2" x2="235.4" y2="167.7"/>
<line x1="231.7" y1="170.5" x2="231.2" y2="169.0"/>
<line x1="227.7" y1="172.2" x2="227.0" y2="170.7"/>
<line x1="223.8" y1="174.2" x2="223.0" y2="172.8"/>
<line x1="220.1" y1="176.5" x2="219.2" y2="175.2"/>
<line x1="216.7" y1="179.2" x2="215.6" y2="178.0"/>
<line x1="213.4" y1="182.1" x2="212.3" y2="181.0"/>
<line x1="210.5" y1="185.4" x2="209.3" y2="184.3"/>
<line x1="207.8" y1="188.8" x2="206.5" y2="187.9"/>
<line x1="205.5" y1="192.5" x2="204.1" y2="191.7"/>
<line x1="203.5" y1="196.4" x2="202.0" y2="195.7"/>
<line x1="201.8" y1="200.4" x2="200.3" y2="199.9"/>
<line x1="200.5" y1="204.6" x2="199.0" y2="204.1"/>
<line x1="199.6" y1="208.8" x2="198.0" y2="208.5"/>
<line x1="199.0" y1="213.1" x2="197.4" y2="213.0"/>
<line x1="198.8" y1="217.5" x2="197.2" y2="217.5"/>
<line x1="199.0" y1="221.9" x2="197.4" y2="222.0"/>
<line x1="199.6" y1="226.2" x2="198.0" y2="226.5"/>
<line x1="200.5" y1="230.4" x2="199.0" y2="230.9"/>
<line x1="201.8" y1="234.6" x2="200.3" y2="235.1"/>
<line x1="203.5" y1="238.6" x2="202.0" y2="239.3"/>
<line x1="205.5" y1="242.5" x2="204.1" y2="243.3"/>
<line x1="207.8" y1="246.2" x2="206.5" y2="247.1"/>
<line x1="210.5" y1="249.6" x2="209.3" y2="250.7"/>
<line x1="213.4" y1="252.9" x2="212.3" y2="254.0"/>
<line x1="216.7" y1="255.8" x2="215.6" y2="257.0"/>
<line x1="220.1" y1="258.5" x2="219.2" y2="259.8"/>
<line x1="223.8" y1="260.8" x2="223.0" y2="262.2"/>
<line x1="227.7" y1="262.8" x2="227.0" y2="264.3"/>
<line x1="231.7" y1="264.5" x2="231.2" y2="266.0"/>
<line x1="235.9" y1="265.8" x2="235.4" y2="267.3"/>
<line x1="240.1" y1="266.7" x2="239.8" y2="268.3"/>
<line x1="244.4" y1="267.3" x2="244.3" y2="268.9"/>
<line x1="248.8" y1="267.5" x2="248.8" y2="269.1"/>
<line x1="253.2" y1="267.3" x2="253.3" y2="268.9"/>
<line x1="257.5" y1="266.7" x2="257.8" y2="268.3"/>
<line x1="261.7" y1="265.8" x2="262.2" y2="267.3"/>
<line x1="265.9" y1="264.5" x2="266.4" y2="266.0"/>
<line x1="269.9" y1="262.8" x2="270.6" y2="264.3"/>
<line x1="273.8" y1="260.8" x2="274.6" y2="262.2"/>
<line x1="277.5" y1="258.5" x2="278.4" y2="259.8"/>
<line x1="280.9" y1="255.8" x2="282.0" y2="257.0"/>
<line x1="284.2" y1="252.9" x2="285.3" y2="254.0"/>
<line x1="287.1" y1="249.6" x2="288.3" y2="250.7"/>
<line x1="289.8" y1="246.2" x2="291.1" y2="247.1"/>
<line x1="292.1" y1="242.5" x2="293.5" y2="243.3"/>
<line x1="294.1" y1="238.6" x2="295.6" y2="239.3"/>
<line x1="295.8" y1="234.6" x2="297.3" y2="235.1"/>
<line x1="297.1" y1="230.4" x2="298.6" y2="230.9"/>
<line x1="298.0" y1="226.2" x2="299.6" y2="226.5"/>
<line x1="298.6" y1="221.9" x2="300.2" y2="222.0"/>
</g>
<g transform="translate(181.5,131.5)">
<text x="32.9" y="41.8" font-size="6.7" fill="#f2f2f2" font-weight="bold" stroke="#111" stroke-width="1.1" paint-order="stroke" stroke-linejoin="round">120</text>
<text x="47.4" y="39.3" font-size="6.7" fill="#f2f2f2" font-weight="bold" stroke="#111" stroke-width="1.1" paint-order="stroke" stroke-linejoin="round">105</text>
<text x="62.6" y="37.9" font-size="6.7" fill="#f2f2f2" font-weight="bold" stroke="#111" stroke-width="1.1" paint-order="stroke" stroke-linejoin="round">90</text>
<text x="76.4" y="39.3" font-size="6.7" fill="#f2f2f2" font-weight="bold" stroke="#111" stroke-width="1.1" paint-order="stroke" stroke-linejoin="round">75</text>
<text x="90.9" y="41.8" font-size="6.7" fill="#f2f2f2" font-weight="bold" stroke="#111" stroke-width="1.1" paint-order="stroke" stroke-linejoin="round">60</text>
<text x="20.8" y="46.6" font-size="6.7" fill="#f2f2f2" font-weight="bold" stroke="#111" stroke-width="1.1" paint-order="stroke" stroke-linejoin="round">135</text>
<text x="10.0" y="55.0" font-size="6.7" fill="#f2f2f2" font-weight="bold" stroke="#111" stroke-width="1.1" paint-order="stroke" stroke-linejoin="round">150</text>
<text x="1.5" y="70.3" font-size="6.7" fill="#f2f2f2" font-weight="bold" stroke="#111" stroke-width="1.1" paint-order="stroke" stroke-linejoin="round">165</text>
<text x="7.3" y="86.2" font-size="6.7" fill="#f2f2f2" font-weight="bold" stroke="#111" stroke-width="1.1" paint-order="stroke" stroke-linejoin="round">0</text>
<text x="103.0" y="46.3" font-size="6.7" fill="#f2f2f2" font-weight="bold" stroke="#111" stroke-width="1.1" paint-order="stroke" stroke-linejoin="round">45</text>
<text x="113.7" y="55.0" font-size="6.7" fill="#f2f2f2" font-weight="bold" stroke="#111" stroke-width="1.1" paint-order="stroke" stroke-linejoin="round">30</text>
<text x="122.3" y="69.8" font-size="6.7" fill="#f2f2f2" font-weight="bold" stroke="#111" stroke-width="1.1" paint-order="stroke" stroke-linejoin="round">15</text>
<text x="124.8" y="86.0" font-size="6.7" fill="#f2f2f2" font-weight="bold" stroke="#111" stroke-width="1.1" paint-order="stroke" stroke-linejoin="round">0</text>
<text x="36.7" y="131.7" font-size="6.7" fill="#f2f2f2" font-weight="bold" stroke="#111" stroke-width="1.1" paint-order="stroke" stroke-linejoin="round">60</text>
<text x="51.3" y="133.6" font-size="6.7" fill="#f2f2f2" font-weight="bold" stroke="#111" stroke-width="1.1" paint-order="stroke" stroke-linejoin="round">75</text>
<text x="63.6" y="133.6" font-size="6.7" fill="#f2f2f2" font-weight="bold" stroke="#111" stroke-width="1.1" paint-order="stroke" stroke-linejoin="round">90</text>
<text x="77.2" y="133.6" font-size="6.7" fill="#f2f2f2" font-weight="bold" stroke="#111" stroke-width="1.1" paint-order="stroke" stroke-linejoin="round">105</text>
<text x="90.9" y="130.2" font-size="6.7" fill="#f2f2f2" font-weight="bold" stroke="#111" stroke-width="1.1" paint-order="stroke" stroke-linejoin="round">120</text>
<text x="103.4" y="125.0" font-size="6.7" fill="#f2f2f2" font-weight="bold" stroke="#111" stroke-width="1.1" paint-order="stroke" stroke-linejoin="round">135</text>
<text x="113.5" y="116.6" font-size="6.7" fill="#f2f2f2" font-weight="bold" stroke="#111" stroke-width="1.1" paint-order="stroke" stroke-linejoin="round">150</text>
<text x="126.4" y="102.7" font-size="6.7" fill="#f2f2f2" font-weight="bold" stroke="#111" stroke-width="1.1" paint-order="stroke" stroke-linejoin="round">55</text>
<rect x="13" y="68.5" width="3" height="0.8" fill="#cfcfcf"/>
<rect x="13.5" y="84.4" width="3" height="0.8" fill="#cfcfcf"/>
<text x="117.0" y="93.6" font-size="6.3" fill="#e0e0e0" font-weight="bold" stroke="#111" stroke-width="1.1" paint-order="stroke" stroke-linejoin="round">127</text>
<text x="4.5" y="99.6" font-size="4.6" fill="#d8d8d8" font-weight="bold">15</text>
<text x="0.8" y="104.8" font-size="7" fill="#eeeeee" font-weight="bold" textLength="15.5" lengthAdjust="spacingAndGlyphs" stroke="#111" stroke-width="1.1" paint-order="stroke" stroke-linejoin="round">Pupil</text>
<text x="0.8" y="114.6" font-size="7" fill="#eeeeee" font-weight="bold" textLength="6.2" lengthAdjust="spacingAndGlyphs" stroke="#111" stroke-width="1.1" paint-order="stroke" stroke-linejoin="round">X=</text>
<text x="27.7" y="114.6" font-size="7" fill="#eeeeee" font-weight="bold" text-anchor="end" stroke="#111" stroke-width="1.1" paint-order="stroke" stroke-linejoin="round">-0.29</text>
<text x="0.8" y="124.0" font-size="7" fill="#eeeeee" font-weight="bold" textLength="6.2" lengthAdjust="spacingAndGlyphs" stroke="#111" stroke-width="1.1" paint-order="stroke" stroke-linejoin="round">Y=</text>
<text x="24.5" y="124.0" font-size="7" fill="#eeeeee" font-weight="bold" text-anchor="end" stroke="#111" stroke-width="1.1" paint-order="stroke" stroke-linejoin="round">0.13</text>
<text x="0.8" y="133.8" font-size="7" fill="#eeeeee" font-weight="bold" textLength="6.2" lengthAdjust="spacingAndGlyphs" stroke="#111" stroke-width="1.1" paint-order="stroke" stroke-linejoin="round">D=</text>
<text x="27.7" y="133.8" font-size="7" fill="#eeeeee" font-weight="bold" text-anchor="end" stroke="#111" stroke-width="1.1" paint-order="stroke" stroke-linejoin="round">4.09</text>
<text x="107.0" y="105.5" font-size="7.2" fill="#34d034" font-weight="bold" textLength="20.4" lengthAdjust="spacingAndGlyphs" stroke="#111" stroke-width="1.1" paint-order="stroke" stroke-linejoin="round">Offsets</text>
<text x="107.0" y="114.7" font-size="7.2" fill="#34d034" font-weight="bold" stroke="#111" stroke-width="1.1" paint-order="stroke" stroke-linejoin="round">X=</text>
<text x="133.2" y="114.7" font-size="7.2" fill="#34d034" font-weight="bold" text-anchor="end" stroke="#111" stroke-width="1.1" paint-order="stroke" stroke-linejoin="round">0.12</text>
<text x="107.0" y="124.0" font-size="7.2" fill="#34d034" font-weight="bold" stroke="#111" stroke-width="1.1" paint-order="stroke" stroke-linejoin="round">Y=</text>
<text x="133.2" y="124.0" font-size="7.2" fill="#34d034" font-weight="bold" text-anchor="end" stroke="#111" stroke-width="1.1" paint-order="stroke" stroke-linejoin="round">0.04</text>
<text x="107.0" y="133.2" font-size="7.2" fill="#34d034" font-weight="bold" stroke="#111" stroke-width="1.1" paint-order="stroke" stroke-linejoin="round">Z=</text>
<text x="133.2" y="133.2" font-size="7.2" fill="#34d034" font-weight="bold" text-anchor="end" stroke="#111" stroke-width="1.1" paint-order="stroke" stroke-linejoin="round">0.09</text>
<text x="104.0" y="39.8" font-size="7" fill="#e47c3c" font-weight="bold" textLength="28.3" lengthAdjust="spacingAndGlyphs">MERGED</text>
</g>
</g>
<text x="62.8" y="292.7" font-size="9" fill="#48cad8" font-weight="bold" textLength="52.8" lengthAdjust="spacingAndGlyphs" stroke="#48cad8" stroke-width="0.3">Keratometric</text>
<text x="251.7" y="292.7" font-size="9" fill="#48cad8" font-weight="bold" textLength="38" lengthAdjust="spacingAndGlyphs" stroke="#48cad8" stroke-width="0.3">Posterior</text>
<text x="3.6" y="300.6" font-size="7.5" fill="#f0f0f0" stroke="#f0f0f0" stroke-width="0.35">Ks</text>
<text x="25.6" y="300.6" font-size="7.5" fill="#f0f0f0" stroke="#f0f0f0" stroke-width="0.35">:</text>
<text x="3.6" y="309.8" font-size="7.5" fill="#f0f0f0" stroke="#f0f0f0" stroke-width="0.35">Kf</text>
<text x="25.6" y="309.8" font-size="7.5" fill="#f0f0f0" stroke="#f0f0f0" stroke-width="0.35">:</text>
<text x="3.6" y="319.0" font-size="7.5" fill="#f0f0f0" stroke="#f0f0f0" stroke-width="0.35">AvgK</text>
<text x="25.6" y="319.0" font-size="7.5" fill="#f0f0f0" stroke="#f0f0f0" stroke-width="0.35">:</text>
<text x="58.7" y="300.6" font-size="7.5" fill="#f0f0f0" stroke="#f0f0f0" stroke-width="0.35"></text>
<text x="58.9" y="300.6" font-size="7.5" fill="#f0f0f0" text-anchor="end" stroke="#f0f0f0" stroke-width="0.35">46.77</text>
<text x="64.4" y="300.6" font-size="7.5" fill="#f0f0f0" stroke="#f0f0f0" stroke-width="0.35">@122°</text>
<text x="92.7" y="300.6" font-size="7.5" fill="#f0f0f0" stroke="#f0f0f0" stroke-width="0.35">CYL</text>
<text x="117.6" y="300.6" font-size="7.5" fill="#f0f0f0" stroke="#f0f0f0" stroke-width="0.35">:</text>
<text x="141.8" y="300.6" font-size="7.5" fill="#f0f0f0" text-anchor="end" stroke="#f0f0f0" stroke-width="0.35">4.29</text>
<text x="58.7" y="309.8" font-size="7.5" fill="#f0f0f0" stroke="#f0f0f0" stroke-width="0.35"></text>
<text x="58.9" y="309.8" font-size="7.5" fill="#f0f0f0" text-anchor="end" stroke="#f0f0f0" stroke-width="0.35">42.48</text>
<text x="64.4" y="309.8" font-size="7.5" fill="#f0f0f0" stroke="#f0f0f0" stroke-width="0.35">@</text>
<text x="76.7" y="309.8" font-size="7.5" fill="#f0f0f0" stroke="#f0f0f0" stroke-width="0.35">32°</text>
<text x="92.7" y="309.8" font-size="7.5" fill="#f0f0f0" stroke="#f0f0f0" stroke-width="0.35">MinK</text>
<text x="117.6" y="309.8" font-size="7.5" fill="#f0f0f0" stroke="#f0f0f0" stroke-width="0.35">:</text>
<text x="141.8" y="309.8" font-size="7.5" fill="#f0f0f0" text-anchor="end" stroke="#f0f0f0" stroke-width="0.35">42.47</text>
<text x="58.7" y="319.0" font-size="7.5" fill="#f0f0f0" stroke="#f0f0f0" stroke-width="0.35"></text>
<text x="58.9" y="319.0" font-size="7.5" fill="#f0f0f0" text-anchor="end" stroke="#f0f0f0" stroke-width="0.35">44.63</text>
<text x="184.6" y="300.6" font-size="7.5" fill="#f0f0f0" stroke="#f0f0f0" stroke-width="0.35">Ks</text>
<text x="206.6" y="300.6" font-size="7.5" fill="#f0f0f0" stroke="#f0f0f0" stroke-width="0.35">:</text>
<text x="184.6" y="309.8" font-size="7.5" fill="#f0f0f0" stroke="#f0f0f0" stroke-width="0.35">Kf</text>
<text x="206.6" y="309.8" font-size="7.5" fill="#f0f0f0" stroke="#f0f0f0" stroke-width="0.35">:</text>
<text x="184.6" y="319.0" font-size="7.5" fill="#f0f0f0" stroke="#f0f0f0" stroke-width="0.35">AvgK</text>
<text x="206.6" y="319.0" font-size="7.5" fill="#f0f0f0" stroke="#f0f0f0" stroke-width="0.35">:</text>
<text x="239.7" y="300.6" font-size="7.5" fill="#f0f0f0" stroke="#f0f0f0" stroke-width="0.35"></text>
<text x="239.9" y="300.6" font-size="7.5" fill="#f0f0f0" text-anchor="end" stroke="#f0f0f0" stroke-width="0.35">-7.04</text>
<text x="245.4" y="300.6" font-size="7.5" fill="#f0f0f0" stroke="#f0f0f0" stroke-width="0.35">@118°</text>
<text x="273.7" y="300.6" font-size="7.5" fill="#f0f0f0" stroke="#f0f0f0" stroke-width="0.35">CYL</text>
<text x="298.6" y="300.6" font-size="7.5" fill="#f0f0f0" stroke="#f0f0f0" stroke-width="0.35">:</text>
<text x="322.8" y="300.6" font-size="7.5" fill="#f0f0f0" text-anchor="end" stroke="#f0f0f0" stroke-width="0.35">0.68</text>
<text x="239.7" y="309.8" font-size="7.5" fill="#f0f0f0" stroke="#f0f0f0" stroke-width="0.35"></text>
<text x="239.9" y="309.8" font-size="7.5" fill="#f0f0f0" text-anchor="end" stroke="#f0f0f0" stroke-width="0.35">-6.37</text>
<text x="245.4" y="309.8" font-size="7.5" fill="#f0f0f0" stroke="#f0f0f0" stroke-width="0.35">@</text>
<text x="257.7" y="309.8" font-size="7.5" fill="#f0f0f0" stroke="#f0f0f0" stroke-width="0.35">28°</text>
<text x="239.7" y="319.0" font-size="7.5" fill="#f0f0f0" stroke="#f0f0f0" stroke-width="0.35"></text>
<text x="239.9" y="319.0" font-size="7.5" fill="#f0f0f0" text-anchor="end" stroke="#f0f0f0" stroke-width="0.35">-6.71</text>
<text x="147" y="309.8" font-size="7.5" fill="#f0f0f0" stroke="#f0f0f0" stroke-width="0.35">@35°</text>
<defs>
<clipPath id="sph"><circle cx="458.7" cy="63" r="58.3"/></clipPath>
<filter id="sb7" x="-50%" y="-50%" width="200%" height="200%"><feGaussianBlur stdDeviation="7"/></filter>
<filter id="sb4" x="-50%" y="-50%" width="200%" height="200%"><feGaussianBlur stdDeviation="4"/></filter>
<filter id="sb3" x="-50%" y="-50%" width="200%" height="200%"><feGaussianBlur stdDeviation="3"/></filter>
<filter id="sb2" x="-50%" y="-50%" width="200%" height="200%"><feGaussianBlur stdDeviation="2.2"/></filter>
<filter id="sb9" x="-50%" y="-50%" width="200%" height="200%"><feGaussianBlur stdDeviation="9"/></filter>
</defs>
<g clip-path="url(#sph)">
<rect x="398.4" y="2.700000000000003" width="120.6" height="120.6" fill="#b2d84c"/>
<ellipse cx="512" cy="60" rx="12" ry="34" fill="#d6e044" filter="url(#sb9)"/>
<ellipse cx="448" cy="49" rx="46" ry="16" fill="#62c64a" filter="url(#sb7)" transform="rotate(-4 448 49)"/>
<g transform="rotate(-8 460 14)">
<ellipse cx="462" cy="12" rx="72" ry="25" fill="#e6dc42" filter="url(#sb3)"/>
<ellipse cx="461" cy="12" rx="62" ry="21" fill="#f09a32" filter="url(#sb2)"/>
<ellipse cx="459" cy="9" rx="56" ry="20.5" fill="#d83c26" filter="url(#sb2)"/>
</g>
<g transform="rotate(-14 457 88)">
<ellipse cx="458" cy="88" rx="52" ry="24" fill="#e8dc40" filter="url(#sb4)"/>
<ellipse cx="457" cy="88" rx="43" ry="18" fill="#f0a032" filter="url(#sb4)"/>
<ellipse cx="456" cy="88.5" rx="25" ry="10" fill="#e04c26" filter="url(#sb3)"/>
</g>
<circle cx="458.7" cy="63" r="58.3" fill="none" stroke="#a0d848" stroke-width="3" filter="url(#sb2)" opacity="0.6"/>
</g>
<circle cx="458.7" cy="63" r="58.0" fill="none" stroke="#b8e070" stroke-width="1.2" stroke-dasharray="0.7 1.3" opacity="0.7"/>

<text x="465" y="154.1" font-size="10" fill="#1a1a1a" text-anchor="end" stroke="#1a1a1a" stroke-width="0.22">Max. ablation depth:</text>
<text x="551.3" y="154.1" font-size="10" fill="#1a1a1a" text-anchor="end" stroke="#1a1a1a" stroke-width="0.22">110.6 (46.83) μm</text>
<text x="465" y="165.7" font-size="10" fill="#1a1a1a" text-anchor="end" stroke="#1a1a1a" stroke-width="0.22">Central ablation depth:</text>
<text x="551.3" y="165.7" font-size="10" fill="#1a1a1a" text-anchor="end" stroke="#1a1a1a" stroke-width="0.22">68.70 (13.51) μm</text>
<text x="465" y="177.29999999999998" font-size="10" fill="#1a1a1a" text-anchor="end" stroke="#1a1a1a" stroke-width="0.22">Min. ablation depth:</text>
<text x="551.3" y="177.29999999999998" font-size="10" fill="#1a1a1a" text-anchor="end" stroke="#1a1a1a" stroke-width="0.22">56.51 (0.010) μm</text>
<text x="465" y="188.89999999999998" font-size="10" fill="#1a1a1a" text-anchor="end" stroke="#1a1a1a" stroke-width="0.22">Ablation volume:</text>
<text x="551.3" y="188.89999999999998" font-size="10" fill="#1a1a1a" text-anchor="end" stroke="#1a1a1a" stroke-width="0.22">3499 (786.1) nl</text>
<rect x="376" y="212" width="1.2" height="108.5" fill="#3a3a3a"/>
<rect x="376" y="212" width="14" height="1.2" fill="#3a3a3a"/>
<rect x="460" y="212" width="86" height="1.2" fill="#3a3a3a"/>
<text x="392" y="215.7" font-size="10" fill="#1a1a1a" stroke="#1a1a1a" stroke-width="0.22">RST manager</text>
<text x="454.2" y="231" font-size="10" fill="#1a1a1a" stroke="#1a1a1a" stroke-width="0.22">Central</text>
<text x="503.7" y="231.5" font-size="10" fill="#1a1a1a" textLength="47" lengthAdjust="spacingAndGlyphs" stroke="#1a1a1a" stroke-width="0.22">@ 7.03mm</text>
<text x="438.5" y="251.0" font-size="10" fill="#1a1a1a" text-anchor="end" stroke="#1a1a1a" stroke-width="0.22">Pachy:</text>
<text x="485.3" y="251.0" font-size="10" fill="#1a1a1a" text-anchor="end" stroke="#1a1a1a" stroke-width="0.22">475 μm</text>
<text x="543.5" y="251.0" font-size="10" fill="#1a1a1a" text-anchor="end" stroke="#1a1a1a" stroke-width="0.22">640 μm</text>
<text x="438.5" y="268.25" font-size="10" fill="#1a1a1a" text-anchor="end" stroke="#1a1a1a" stroke-width="0.22">Epith.thickn.:</text>
<text x="485.3" y="268.25" font-size="10" fill="#1a1a1a" text-anchor="end" stroke="#1a1a1a" stroke-width="0.22">0 μm</text>
<text x="543.5" y="268.25" font-size="10" fill="#1a1a1a" text-anchor="end" stroke="#1a1a1a" stroke-width="0.22">0 μm</text>
<text x="438.5" y="285.5" font-size="10" fill="#1a1a1a" text-anchor="end" stroke="#1a1a1a" stroke-width="0.22">Max. abl.:</text>
<text x="485.3" y="285.5" font-size="10" fill="#1a1a1a" text-anchor="end" stroke="#1a1a1a" stroke-width="0.22">69 μm</text>
<text x="543.5" y="285.5" font-size="10" fill="#1a1a1a" text-anchor="end" stroke="#1a1a1a" stroke-width="0.22">111 μm</text>
<text x="438.5" y="302.75" font-size="10" fill="#1a1a1a" text-anchor="end" stroke="#1a1a1a" stroke-width="0.22">RST (&gt;250)</text>
<text x="485.3" y="302.75" font-size="10" fill="#1a1a1a" text-anchor="end" stroke="#1a1a1a" stroke-width="0.22">406 μm</text>
<text x="543.5" y="302.75" font-size="10" fill="#1a1a1a" text-anchor="end" stroke="#1a1a1a" stroke-width="0.22">529 μm</text>
<rect x="446" y="290.3" width="99.5" height="1.6" fill="#505050"/>
</svg>
</body></html>
